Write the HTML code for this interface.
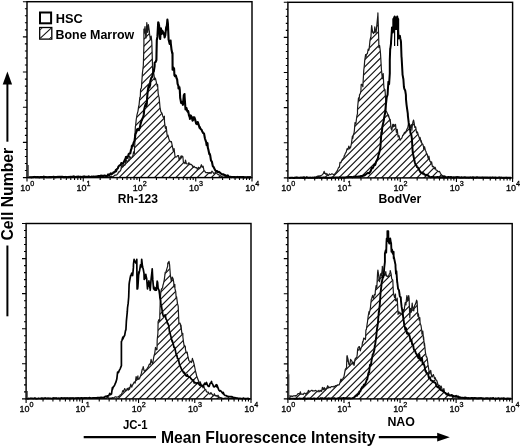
<!DOCTYPE html>
<html><head><meta charset="utf-8"><style>
html,body{margin:0;padding:0;background:#fff;width:520px;height:447px;overflow:hidden}
svg{display:block;will-change:transform}
text{font-family:"Liberation Sans",sans-serif}
</style></head><body>
<svg width="520" height="447" viewBox="0 0 520 447">
<rect width="520" height="447" fill="#fff"/>
<defs>
<clipPath id="c1"><path d="M28.0,177.6 L28.0,177.3 28.9,177.3 29.8,177.5 30.6,177.3 31.5,177.2 32.4,177.3 33.3,177.1 34.2,177.1 35.0,176.7 35.9,177.5 36.8,177.1 37.7,177.0 38.6,176.8 39.4,177.2 40.3,177.3 41.2,177.3 42.1,177.2 43.0,177.5 43.8,177.4 44.7,177.2 45.6,176.6 46.5,177.2 47.4,177.2 48.2,177.1 49.1,177.4 50.0,177.4 50.9,177.0 51.8,177.3 52.6,177.0 53.5,177.4 54.4,177.1 55.3,176.5 56.2,177.1 57.0,176.6 57.9,177.0 58.8,177.0 59.7,177.1 60.0,177.2 60.6,177.4 61.4,177.1 62.3,177.0 63.2,177.3 64.1,177.0 65.0,177.0 65.8,177.3 66.7,176.8 67.6,177.2 68.5,177.2 69.4,177.1 70.2,177.1 71.1,177.0 72.0,177.3 72.9,176.3 73.8,176.5 74.6,177.3 75.5,176.7 76.4,177.3 77.3,177.1 78.2,177.2 79.0,176.2 79.9,176.8 80.0,177.0 80.8,177.0 81.7,177.1 82.6,177.0 83.4,176.9 84.3,176.3 85.2,176.6 86.1,177.2 87.0,177.1 87.8,176.8 88.7,176.7 89.6,177.1 90.5,176.7 91.4,177.0 92.2,176.9 93.1,176.8 94.0,177.1 94.9,177.1 95.8,177.2 96.6,176.9 97.5,177.2 98.4,177.0 99.3,177.2 100.0,177.0 100.2,177.1 101.0,177.0 101.9,176.7 102.8,177.2 103.7,177.0 104.6,177.0 105.4,176.8 106.3,176.6 107.0,176.8 107.2,176.5 108.1,176.8 109.0,176.9 109.8,176.8 110.7,176.1 111.6,176.4 112.5,177.0 112.9,176.7 113.4,176.4 114.2,175.7 115.1,175.1 116.0,175.2 116.9,174.8 117.4,174.0 117.8,173.7 118.6,171.9 119.5,171.9 120.4,170.7 121.0,169.5 121.3,166.6 122.2,165.1 122.7,166.8 123.0,166.7 123.9,164.8 124.8,165.3 125.4,163.3 125.7,158.1 126.6,161.2 127.4,162.0 128.3,160.2 129.0,160.6 129.2,156.2 130.1,156.9 131.0,158.5 131.8,157.5 132.6,156.1 132.7,156.9 133.6,151.9 134.4,153.4 134.5,147.0 134.8,145.0 135.0,134.4 135.4,126.4 135.6,125.6 136.2,119.9 137.0,114.9 137.1,114.4 138.0,111.1 138.7,105.9 138.9,106.6 139.8,97.5 140.3,97.0 140.6,89.4 141.4,88.0 141.5,86.8 141.6,84.6 142.4,73.4 143.3,65.7 143.5,60.0 143.9,45.0 143.9,29.0 144.2,33.6 145.0,26.5 145.9,38.1 146.2,36.3 146.8,22.6 147.7,32.5 148.4,24.5 148.6,26.1 149.4,31.5 149.5,33.5 150.3,39.4 151.2,36.2 151.8,41.8 152.1,51.4 152.2,55.0 152.7,72.3 153.0,69.8 153.8,73.7 154.6,79.7 154.7,77.6 155.6,78.9 156.5,82.9 157.4,86.5 157.6,84.6 158.2,93.6 158.9,97.0 159.1,97.3 160.0,107.1 160.2,108.7 160.9,111.8 161.8,112.9 162.4,114.5 162.6,115.7 163.5,117.8 164.4,116.2 164.5,121.8 165.3,127.9 166.0,129.0 166.2,126.5 167.0,134.4 167.4,136.3 167.9,135.0 168.8,138.6 169.7,141.2 170.6,141.3 171.1,142.2 171.4,141.5 172.3,145.9 173.2,150.7 173.3,149.4 174.1,148.7 175.0,156.2 175.4,156.7 175.8,157.0 176.7,156.8 177.6,155.7 178.5,155.5 179.1,159.6 179.4,159.9 180.2,157.8 181.1,156.0 181.8,156.4 182.0,156.0 182.9,156.7 183.4,162.5 183.8,162.6 184.6,163.1 185.0,163.6 185.5,160.2 186.4,163.7 187.3,164.0 188.2,163.8 189.0,162.7 189.0,163.4 189.9,164.7 190.8,164.1 191.7,164.8 192.5,166.3 192.6,165.5 193.4,167.4 194.3,166.5 195.2,167.7 196.1,167.7 197.0,167.9 197.0,169.0 197.8,169.1 198.7,167.2 199.6,168.7 200.5,167.0 201.4,164.7 202.2,167.3 202.4,167.2 203.1,166.2 204.0,170.6 204.9,171.2 205.0,171.6 205.8,172.7 206.6,172.7 207.5,172.5 208.4,172.8 209.3,172.6 209.6,173.4 210.2,172.4 211.0,173.5 211.9,171.1 212.8,172.2 213.7,173.3 214.6,173.2 215.4,172.4 215.8,172.5 216.3,172.9 217.2,173.9 218.1,174.6 219.0,174.9 219.8,175.1 220.7,176.1 221.2,176.1 221.6,176.4 222.5,176.2 223.4,176.0 224.2,175.7 225.1,176.6 226.0,176.4 226.9,176.8 227.8,176.9 228.6,176.9 229.5,177.2 230.0,177.0 230.4,177.1 231.3,176.7 232.2,177.2 233.0,176.7 233.9,176.6 234.8,177.3 235.7,177.1 236.6,177.2 237.4,177.2 238.3,177.0 239.2,176.6 240.1,177.0 241.0,177.1 241.8,176.6 242.7,177.2 243.6,177.3 244.5,177.2 245.4,177.3 246.2,177.4 247.1,177.1 248.0,176.7 248.9,177.3 249.8,176.9 250.6,177.1 251.0,177.4 L251.0,177.6 Z"/></clipPath>
<clipPath id="c2"><path d="M289.0,177.9 L289.0,177.6 289.9,177.6 290.8,177.5 291.6,177.5 292.5,177.7 293.4,177.6 294.3,177.3 295.2,177.4 296.0,177.4 296.9,177.4 297.8,177.5 298.7,177.5 299.6,177.7 300.4,177.4 301.3,177.4 302.2,177.4 303.1,177.1 304.0,176.8 304.8,177.5 305.7,177.6 306.6,176.9 307.5,177.7 308.4,177.6 309.2,177.5 310.1,177.3 311.0,177.5 311.9,177.6 312.8,177.3 313.6,177.5 314.5,177.4 315.0,177.5 315.4,177.3 316.3,176.7 317.2,176.4 318.0,175.9 318.6,176.1 318.9,176.0 319.8,175.9 320.1,176.3 320.7,175.6 321.6,175.3 322.4,174.6 323.3,173.6 324.2,171.3 324.4,173.3 325.1,173.1 326.0,174.5 326.8,173.5 327.7,175.1 327.8,175.0 328.6,175.4 329.5,173.9 330.4,174.6 331.2,174.2 331.8,173.8 332.1,173.9 333.0,174.2 333.9,174.8 334.7,174.4 334.8,173.8 335.6,173.3 336.0,172.1 336.5,172.1 337.4,170.4 338.3,168.1 339.2,166.9 339.4,167.1 340.0,162.3 340.9,162.8 341.8,160.4 341.9,160.3 342.7,158.9 343.6,158.3 344.4,155.3 344.4,156.1 345.3,153.4 346.2,152.1 346.9,149.4 347.1,148.7 348.0,149.5 348.8,146.1 349.7,148.9 350.3,146.9 350.6,147.5 351.5,143.1 352.4,136.0 352.8,138.5 353.2,135.4 354.1,132.6 354.4,130.2 355.0,122.6 355.9,123.9 356.1,121.8 356.8,116.5 357.5,113.4 357.5,109.7 357.6,107.7 358.5,97.8 358.9,100.3 359.4,97.0 359.5,94.9 360.3,93.7 360.9,90.9 361.2,84.3 362.0,84.3 362.9,86.8 362.9,85.4 363.6,73.4 363.8,69.9 364.2,66.7 364.7,60.6 365.6,54.5 366.1,57.0 366.4,54.0 367.3,54.0 368.2,49.1 368.8,50.3 369.1,49.3 370.0,40.4 370.8,36.8 370.8,39.2 371.5,27.4 371.7,25.6 372.6,32.2 373.5,33.5 373.5,32.1 374.4,32.6 374.8,26.8 375.2,29.8 376.1,33.2 376.2,31.5 377.0,23.4 377.8,15.4 377.9,12.9 378.5,31.5 378.8,42.3 378.9,47.6 379.6,45.5 380.2,50.3 380.5,53.5 381.4,69.2 381.5,70.0 382.3,78.6 382.3,76.1 383.2,73.6 383.7,84.2 384.0,87.9 384.9,91.0 385.0,89.5 385.7,100.3 385.8,110.0 385.8,110.8 386.7,111.9 387.6,114.0 388.4,116.8 388.4,114.8 389.3,118.2 390.1,121.8 390.2,119.3 391.1,128.5 391.8,130.2 392.0,129.2 392.8,124.3 393.4,126.8 393.7,124.3 394.6,126.3 395.5,124.4 396.4,132.3 396.8,131.9 397.2,129.4 398.1,136.9 399.0,135.7 399.9,139.9 400.1,140.3 400.8,139.1 401.6,138.6 402.5,136.2 402.7,135.2 403.4,134.9 404.3,132.7 405.2,133.0 405.2,131.9 406.0,131.8 406.9,129.3 407.8,127.6 408.5,123.5 408.7,123.5 409.6,126.1 410.4,126.3 411.3,124.5 411.9,130.2 412.2,126.0 413.1,121.2 413.6,120.1 414.0,122.1 414.8,127.3 415.3,126.8 415.7,126.8 416.6,133.0 416.9,131.9 417.5,132.1 418.4,135.5 419.2,137.4 419.4,138.6 420.1,137.5 421.0,142.1 421.1,140.3 421.9,143.5 422.8,144.2 423.6,147.0 423.6,148.7 424.5,146.7 425.4,150.4 426.2,152.0 426.3,153.4 427.2,154.0 428.0,158.1 428.7,158.7 428.9,156.2 429.8,161.0 430.7,162.0 431.2,163.8 431.6,161.9 432.4,166.7 433.3,166.3 434.2,167.3 434.6,168.8 435.1,167.2 436.0,170.0 436.8,170.3 437.7,170.9 437.9,171.3 438.6,171.7 439.5,171.4 440.4,173.3 441.2,174.5 442.1,175.5 442.1,176.0 443.0,175.7 443.9,176.2 444.8,175.8 445.6,176.7 446.5,177.5 447.1,177.6 447.4,177.3 448.3,177.5 449.2,177.1 450.0,177.7 450.9,177.6 451.8,177.6 452.7,177.6 453.6,177.6 454.4,177.7 455.3,177.6 456.2,177.6 457.1,177.7 458.0,177.6 458.8,177.5 459.7,177.7 460.6,177.8 461.5,177.5 462.4,177.6 463.2,177.6 464.1,177.3 465.0,177.4 465.9,177.8 466.8,177.7 467.6,177.6 468.5,177.8 469.4,177.8 470.3,177.1 471.2,177.8 472.0,177.8 472.9,177.7 473.8,177.6 474.7,177.6 475.6,177.8 476.4,177.3 477.3,177.6 478.2,177.6 479.1,177.7 480.0,177.8 480.8,177.7 481.7,177.8 482.6,177.4 483.5,177.7 484.4,177.6 485.2,177.8 486.1,177.7 487.0,177.8 487.9,177.8 488.8,177.5 489.6,177.6 490.5,177.6 491.4,177.6 492.3,177.4 493.2,177.8 494.0,177.7 494.9,177.8 495.8,177.8 496.7,177.8 497.6,177.8 498.4,177.8 499.3,177.4 500.2,177.5 501.1,177.7 502.0,177.8 502.8,177.8 503.7,177.9 504.6,177.9 505.5,177.7 506.4,177.9 507.2,177.7 508.1,177.7 509.0,177.8 509.9,177.8 510.8,177.9 511.0,177.8 L511.0,177.9 Z"/></clipPath>
<clipPath id="c3"><path d="M27.0,398.9 L27.0,398.6 27.9,398.5 28.8,398.7 29.6,398.5 30.5,398.4 31.4,398.2 32.3,398.5 33.2,398.5 34.0,398.3 34.9,398.4 35.8,398.7 36.7,398.7 37.6,398.7 38.4,398.4 39.3,398.5 40.2,398.5 41.1,398.5 42.0,397.8 42.8,398.6 43.7,398.6 44.6,398.1 45.5,398.2 46.4,398.5 47.2,398.5 48.1,398.0 49.0,398.3 49.9,398.3 50.8,398.3 51.6,398.7 52.5,398.5 53.4,397.6 54.3,398.6 55.2,398.3 56.0,398.6 56.9,397.9 57.8,398.4 58.7,398.2 59.6,398.5 60.0,398.4 60.4,398.3 61.3,398.4 62.2,398.3 63.1,398.3 64.0,398.2 64.8,398.2 65.7,398.2 66.6,398.4 67.5,398.1 68.4,398.0 69.2,398.2 70.1,398.2 71.0,398.1 71.9,398.3 72.8,398.1 73.6,398.3 74.5,398.3 75.4,398.4 76.3,398.1 77.2,398.5 78.0,398.2 78.9,398.5 79.8,398.3 80.7,398.2 81.6,398.1 82.4,398.0 83.3,398.1 84.2,397.6 85.1,398.1 86.0,398.3 86.8,398.1 87.7,398.1 88.6,398.0 89.5,398.1 90.4,397.8 91.2,398.2 92.1,398.5 93.0,398.0 93.9,398.0 94.8,398.1 95.6,398.0 96.5,398.1 97.4,398.0 98.3,398.1 99.2,397.6 100.0,398.2 100.0,398.3 100.9,398.2 101.8,398.1 102.7,398.2 103.6,398.0 104.4,398.1 105.3,398.1 106.2,398.4 107.1,397.5 108.0,397.4 108.8,398.3 109.7,398.2 110.6,398.1 111.5,398.2 112.4,397.6 112.4,398.0 113.2,398.2 114.1,397.4 115.0,396.9 115.9,396.9 116.8,397.3 117.6,397.0 118.5,396.4 119.1,396.3 119.4,396.3 120.3,394.8 121.2,394.8 122.0,392.9 122.9,390.5 123.6,391.8 123.8,390.8 124.7,388.6 125.6,390.6 126.4,390.6 127.3,388.3 128.2,390.2 129.1,387.5 129.2,389.5 130.0,387.7 130.8,384.1 131.7,387.2 132.5,385.1 132.6,385.0 133.5,383.4 134.4,381.9 134.8,382.8 135.2,383.0 136.1,376.5 137.0,379.6 137.9,375.9 138.1,378.4 138.8,379.3 139.6,378.3 140.0,377.0 140.5,376.2 141.4,373.2 142.3,369.0 142.7,369.1 143.2,366.6 144.0,370.4 144.9,371.6 145.4,370.9 145.8,369.9 146.7,369.2 147.6,367.7 148.1,367.3 148.4,366.4 149.3,364.1 150.2,364.7 150.7,361.9 151.1,359.4 152.0,362.8 152.5,363.7 152.8,363.2 153.7,357.4 154.3,354.7 154.6,354.4 155.5,347.4 156.4,349.8 157.0,349.4 157.2,339.8 157.9,333.3 158.1,321.7 159.0,319.5 159.7,320.7 159.9,311.7 160.3,300.0 160.8,292.0 161.6,288.7 162.5,288.1 163.0,284.9 163.4,284.0 164.3,279.6 165.0,274.2 165.2,272.3 166.0,272.0 166.9,268.6 167.7,266.1 167.8,263.1 168.7,262.0 169.0,261.4 169.6,264.9 170.3,274.2 170.4,275.3 171.3,281.2 171.7,279.5 172.2,277.0 173.1,278.8 173.7,282.2 174.0,287.0 174.8,284.4 175.0,288.9 175.7,291.5 176.2,298.0 176.6,296.9 177.5,303.7 178.2,306.1 178.4,311.5 178.9,323.6 179.2,323.3 180.1,323.1 180.9,327.6 181.0,325.1 181.9,334.0 182.8,333.3 182.9,337.0 183.6,342.5 184.2,346.4 184.5,345.4 185.4,346.8 185.4,349.2 186.3,352.8 187.2,352.1 187.7,355.4 188.0,356.6 188.9,360.6 189.8,361.4 190.0,361.5 190.7,361.3 191.6,362.5 192.4,358.3 193.1,360.8 193.3,361.1 194.2,364.7 195.1,369.0 195.4,370.8 196.0,373.0 196.8,376.6 197.7,378.5 197.7,378.7 198.6,380.9 199.5,383.1 200.4,381.9 200.8,384.6 201.2,385.0 202.1,385.1 203.0,387.8 203.9,386.1 204.6,389.2 204.8,389.2 205.6,389.3 206.5,391.7 207.4,392.1 208.3,392.1 209.2,393.7 209.2,393.8 210.0,394.2 210.9,392.6 211.8,394.0 212.7,395.0 213.6,395.7 214.4,393.7 215.3,395.9 216.2,395.5 216.9,396.2 217.1,396.8 218.0,395.2 218.8,396.8 219.7,397.5 220.6,397.6 221.5,397.8 221.5,398.3 222.4,398.2 223.2,398.6 224.1,398.3 225.0,398.2 225.9,398.2 226.8,398.2 227.6,398.2 228.5,397.6 229.4,398.5 230.3,398.5 231.2,398.3 232.0,398.2 232.9,398.3 233.8,398.6 234.7,397.9 235.6,398.0 236.4,398.4 237.3,398.5 238.2,398.4 239.1,398.4 240.0,398.7 240.8,398.7 241.7,398.5 242.6,398.6 243.5,398.1 244.4,398.7 245.2,398.5 246.1,398.7 247.0,398.5 247.9,398.2 248.8,398.6 249.6,398.7 250.0,398.7 L250.0,398.9 Z"/></clipPath>
<clipPath id="c4"><path d="M289.0,398.9 L289.0,396.3 289.9,395.8 290.8,396.4 291.6,395.9 292.5,396.4 293.4,395.8 294.3,395.9 295.0,396.0 295.2,395.5 296.0,396.2 296.9,395.1 297.8,393.9 298.7,393.5 299.6,394.1 300.4,391.8 300.9,394.3 301.3,394.1 302.2,394.0 303.1,394.6 304.0,393.3 304.8,393.0 305.7,394.2 306.6,393.0 307.2,393.4 307.5,392.8 308.4,390.4 309.2,391.6 310.1,391.0 311.0,390.7 311.9,390.2 312.5,390.7 312.8,391.1 313.6,390.8 314.5,390.9 315.4,390.4 316.3,390.8 317.2,391.1 317.9,391.6 318.0,391.9 318.9,390.3 319.8,391.8 320.7,390.4 321.6,391.3 322.4,387.3 323.3,389.8 323.3,389.7 324.2,387.5 325.1,390.2 326.0,388.4 326.8,388.3 327.7,385.7 328.6,387.4 328.6,388.0 329.5,387.2 330.4,387.7 331.2,386.6 332.1,386.5 333.0,386.8 333.9,386.9 334.0,386.2 334.8,386.9 335.6,385.5 336.5,385.7 337.4,384.9 337.6,385.3 338.3,384.9 339.2,384.9 340.0,382.4 340.9,379.2 341.2,381.7 341.8,379.6 342.7,379.0 343.6,377.3 343.8,377.3 344.4,374.3 345.3,369.4 346.2,368.0 346.5,368.3 346.9,356.7 347.1,355.7 348.0,359.2 348.8,364.1 349.2,364.7 349.7,365.8 350.6,359.3 351.5,360.7 351.9,361.2 352.4,363.9 353.2,362.0 353.7,364.7 354.1,365.3 355.0,359.1 355.9,357.9 356.8,357.3 357.3,354.0 357.6,349.2 358.5,347.0 359.4,346.6 360.3,350.9 360.9,348.6 361.2,347.7 362.0,346.3 362.6,341.5 362.9,342.2 363.8,338.0 364.7,338.7 365.3,339.7 365.6,337.9 365.9,330.0 366.4,329.5 367.3,322.8 367.4,322.7 368.2,316.0 369.0,311.7 369.1,314.4 370.0,310.1 370.5,307.0 370.8,303.8 371.3,299.2 371.7,298.5 372.6,295.3 373.5,298.3 373.7,297.6 374.4,294.4 375.2,294.9 375.3,291.3 376.1,285.7 376.8,288.2 377.0,284.1 377.6,272.5 377.9,270.0 378.8,276.7 379.0,280.0 379.6,281.7 380.5,274.2 381.4,273.2 381.5,275.7 382.3,268.0 382.3,266.3 383.2,275.4 383.5,276.0 384.0,273.4 384.9,275.8 385.8,271.7 386.0,274.0 386.7,276.2 387.6,276.4 388.0,276.0 388.4,277.3 389.3,274.0 390.0,273.0 390.2,270.5 391.1,273.8 391.7,278.8 392.0,279.1 392.8,280.2 393.3,291.3 393.7,294.3 394.6,297.6 395.5,294.0 395.6,300.7 396.4,300.9 397.2,298.2 398.0,311.7 398.1,314.4 399.0,311.8 399.9,313.8 400.8,312.9 401.0,314.0 401.6,313.9 402.5,315.1 403.4,309.5 404.0,312.0 404.3,309.1 405.2,302.5 406.0,305.0 406.0,303.1 406.9,295.6 407.8,300.6 408.7,295.6 409.1,298.1 409.6,313.0 409.8,317.6 410.4,308.4 411.3,312.2 412.2,303.0 412.4,305.5 413.1,309.0 413.8,310.9 414.0,307.7 414.8,305.2 415.7,303.6 416.6,300.2 417.1,301.5 417.5,309.3 417.8,316.2 418.4,313.8 419.2,320.2 419.8,317.6 420.1,323.1 420.5,324.3 421.0,325.5 421.8,331.0 421.9,334.1 422.8,331.1 423.5,339.4 423.6,336.9 424.3,345.7 424.5,343.2 425.4,352.3 426.3,357.0 426.6,356.6 427.2,358.5 428.0,364.7 428.2,366.0 428.9,370.1 429.8,373.9 429.8,372.3 430.7,370.4 431.6,376.0 432.1,377.0 432.4,376.6 433.3,374.5 434.2,377.1 434.5,378.5 435.1,377.6 436.0,380.0 436.8,380.6 437.6,383.2 437.7,383.8 438.6,385.8 439.5,385.3 440.4,386.7 440.7,387.9 441.2,386.1 442.1,389.4 443.0,391.6 443.9,388.5 444.6,392.6 444.8,392.6 445.6,393.4 446.5,394.4 447.4,394.2 448.3,392.8 449.2,394.6 450.0,395.5 450.1,395.8 450.9,395.7 451.8,396.2 452.7,395.7 453.6,396.2 454.4,396.6 455.3,397.2 456.2,396.9 457.1,396.9 457.9,397.3 458.0,397.1 458.8,397.4 459.7,397.7 460.6,397.9 461.5,398.0 462.4,397.7 463.2,398.1 464.1,398.0 465.0,397.0 465.9,397.9 466.8,398.2 467.6,398.4 468.5,398.1 469.4,398.1 470.0,398.4 470.3,398.6 471.2,398.5 472.0,397.9 472.9,398.2 473.8,397.7 474.7,397.5 475.6,398.2 476.4,398.4 477.3,398.4 478.2,398.6 479.1,398.1 480.0,398.3 480.8,397.8 481.7,398.0 482.6,398.3 483.5,398.3 484.4,398.7 485.2,398.4 486.1,398.7 487.0,398.7 487.9,398.7 488.8,398.7 489.6,398.7 490.5,398.5 491.4,398.4 492.3,397.9 493.2,398.6 494.0,398.7 494.9,398.6 495.8,398.4 496.7,398.8 497.6,398.6 498.4,397.9 499.3,398.8 500.2,398.7 501.1,398.3 502.0,398.5 502.8,398.7 503.7,398.8 504.6,398.8 505.5,398.7 506.4,398.7 507.2,398.8 508.1,398.8 509.0,398.8 509.9,398.3 510.8,398.7 511.0,398.7 L511.0,398.9 Z"/></clipPath>
</defs>
<g clip-path="url(#c1)" stroke="#111" stroke-width="1.15"><line x1="22.00" y1="4.80" x2="257.00" y2="-230.20"/><line x1="22.00" y1="11.90" x2="257.00" y2="-223.10"/><line x1="22.00" y1="19.00" x2="257.00" y2="-216.00"/><line x1="22.00" y1="26.10" x2="257.00" y2="-208.90"/><line x1="22.00" y1="33.20" x2="257.00" y2="-201.80"/><line x1="22.00" y1="40.30" x2="257.00" y2="-194.70"/><line x1="22.00" y1="47.40" x2="257.00" y2="-187.60"/><line x1="22.00" y1="54.50" x2="257.00" y2="-180.50"/><line x1="22.00" y1="61.60" x2="257.00" y2="-173.40"/><line x1="22.00" y1="68.70" x2="257.00" y2="-166.30"/><line x1="22.00" y1="75.80" x2="257.00" y2="-159.20"/><line x1="22.00" y1="82.90" x2="257.00" y2="-152.10"/><line x1="22.00" y1="90.00" x2="257.00" y2="-145.00"/><line x1="22.00" y1="97.10" x2="257.00" y2="-137.90"/><line x1="22.00" y1="104.20" x2="257.00" y2="-130.80"/><line x1="22.00" y1="111.30" x2="257.00" y2="-123.70"/><line x1="22.00" y1="118.40" x2="257.00" y2="-116.60"/><line x1="22.00" y1="125.50" x2="257.00" y2="-109.50"/><line x1="22.00" y1="132.60" x2="257.00" y2="-102.40"/><line x1="22.00" y1="139.70" x2="257.00" y2="-95.30"/><line x1="22.00" y1="146.80" x2="257.00" y2="-88.20"/><line x1="22.00" y1="153.90" x2="257.00" y2="-81.10"/><line x1="22.00" y1="161.00" x2="257.00" y2="-74.00"/><line x1="22.00" y1="168.10" x2="257.00" y2="-66.90"/><line x1="22.00" y1="175.20" x2="257.00" y2="-59.80"/><line x1="22.00" y1="182.30" x2="257.00" y2="-52.70"/><line x1="22.00" y1="189.40" x2="257.00" y2="-45.60"/><line x1="22.00" y1="196.50" x2="257.00" y2="-38.50"/><line x1="22.00" y1="203.60" x2="257.00" y2="-31.40"/><line x1="22.00" y1="210.70" x2="257.00" y2="-24.30"/><line x1="22.00" y1="217.80" x2="257.00" y2="-17.20"/><line x1="22.00" y1="224.90" x2="257.00" y2="-10.10"/><line x1="22.00" y1="232.00" x2="257.00" y2="-3.00"/><line x1="22.00" y1="239.10" x2="257.00" y2="4.10"/><line x1="22.00" y1="246.20" x2="257.00" y2="11.20"/><line x1="22.00" y1="253.30" x2="257.00" y2="18.30"/><line x1="22.00" y1="260.40" x2="257.00" y2="25.40"/><line x1="22.00" y1="267.50" x2="257.00" y2="32.50"/><line x1="22.00" y1="274.60" x2="257.00" y2="39.60"/><line x1="22.00" y1="281.70" x2="257.00" y2="46.70"/><line x1="22.00" y1="288.80" x2="257.00" y2="53.80"/><line x1="22.00" y1="295.90" x2="257.00" y2="60.90"/><line x1="22.00" y1="303.00" x2="257.00" y2="68.00"/><line x1="22.00" y1="310.10" x2="257.00" y2="75.10"/><line x1="22.00" y1="317.20" x2="257.00" y2="82.20"/><line x1="22.00" y1="324.30" x2="257.00" y2="89.30"/><line x1="22.00" y1="331.40" x2="257.00" y2="96.40"/><line x1="22.00" y1="338.50" x2="257.00" y2="103.50"/><line x1="22.00" y1="345.60" x2="257.00" y2="110.60"/><line x1="22.00" y1="352.70" x2="257.00" y2="117.70"/><line x1="22.00" y1="359.80" x2="257.00" y2="124.80"/><line x1="22.00" y1="366.90" x2="257.00" y2="131.90"/><line x1="22.00" y1="374.00" x2="257.00" y2="139.00"/><line x1="22.00" y1="381.10" x2="257.00" y2="146.10"/><line x1="22.00" y1="388.20" x2="257.00" y2="153.20"/><line x1="22.00" y1="395.30" x2="257.00" y2="160.30"/><line x1="22.00" y1="402.40" x2="257.00" y2="167.40"/><line x1="22.00" y1="409.50" x2="257.00" y2="174.50"/></g>
<polyline points="28.0,177.3 28.9,177.3 29.8,177.5 30.6,177.3 31.5,177.2 32.4,177.3 33.3,177.1 34.2,177.1 35.0,176.7 35.9,177.5 36.8,177.1 37.7,177.0 38.6,176.8 39.4,177.2 40.3,177.3 41.2,177.3 42.1,177.2 43.0,177.5 43.8,177.4 44.7,177.2 45.6,176.6 46.5,177.2 47.4,177.2 48.2,177.1 49.1,177.4 50.0,177.4 50.9,177.0 51.8,177.3 52.6,177.0 53.5,177.4 54.4,177.1 55.3,176.5 56.2,177.1 57.0,176.6 57.9,177.0 58.8,177.0 59.7,177.1 60.0,177.2 60.6,177.4 61.4,177.1 62.3,177.0 63.2,177.3 64.1,177.0 65.0,177.0 65.8,177.3 66.7,176.8 67.6,177.2 68.5,177.2 69.4,177.1 70.2,177.1 71.1,177.0 72.0,177.3 72.9,176.3 73.8,176.5 74.6,177.3 75.5,176.7 76.4,177.3 77.3,177.1 78.2,177.2 79.0,176.2 79.9,176.8 80.0,177.0 80.8,177.0 81.7,177.1 82.6,177.0 83.4,176.9 84.3,176.3 85.2,176.6 86.1,177.2 87.0,177.1 87.8,176.8 88.7,176.7 89.6,177.1 90.5,176.7 91.4,177.0 92.2,176.9 93.1,176.8 94.0,177.1 94.9,177.1 95.8,177.2 96.6,176.9 97.5,177.2 98.4,177.0 99.3,177.2 100.0,177.0 100.2,177.1 101.0,177.0 101.9,176.7 102.8,177.2 103.7,177.0 104.6,177.0 105.4,176.8 106.3,176.6 107.0,176.8 107.2,176.5 108.1,176.8 109.0,176.9 109.8,176.8 110.7,176.1 111.6,176.4 112.5,177.0 112.9,176.7 113.4,176.4 114.2,175.7 115.1,175.1 116.0,175.2 116.9,174.8 117.4,174.0 117.8,173.7 118.6,171.9 119.5,171.9 120.4,170.7 121.0,169.5 121.3,166.6 122.2,165.1 122.7,166.8 123.0,166.7 123.9,164.8 124.8,165.3 125.4,163.3 125.7,158.1 126.6,161.2 127.4,162.0 128.3,160.2 129.0,160.6 129.2,156.2 130.1,156.9 131.0,158.5 131.8,157.5 132.6,156.1 132.7,156.9 133.6,151.9 134.4,153.4 134.5,147.0 134.8,145.0 135.0,134.4 135.4,126.4 135.6,125.6 136.2,119.9 137.0,114.9 137.1,114.4 138.0,111.1 138.7,105.9 138.9,106.6 139.8,97.5 140.3,97.0 140.6,89.4 141.4,88.0 141.5,86.8 141.6,84.6 142.4,73.4 143.3,65.7 143.5,60.0 143.9,45.0 143.9,29.0 144.2,33.6 145.0,26.5 145.9,38.1 146.2,36.3 146.8,22.6 147.7,32.5 148.4,24.5 148.6,26.1 149.4,31.5 149.5,33.5 150.3,39.4 151.2,36.2 151.8,41.8 152.1,51.4 152.2,55.0 152.7,72.3 153.0,69.8 153.8,73.7 154.6,79.7 154.7,77.6 155.6,78.9 156.5,82.9 157.4,86.5 157.6,84.6 158.2,93.6 158.9,97.0 159.1,97.3 160.0,107.1 160.2,108.7 160.9,111.8 161.8,112.9 162.4,114.5 162.6,115.7 163.5,117.8 164.4,116.2 164.5,121.8 165.3,127.9 166.0,129.0 166.2,126.5 167.0,134.4 167.4,136.3 167.9,135.0 168.8,138.6 169.7,141.2 170.6,141.3 171.1,142.2 171.4,141.5 172.3,145.9 173.2,150.7 173.3,149.4 174.1,148.7 175.0,156.2 175.4,156.7 175.8,157.0 176.7,156.8 177.6,155.7 178.5,155.5 179.1,159.6 179.4,159.9 180.2,157.8 181.1,156.0 181.8,156.4 182.0,156.0 182.9,156.7 183.4,162.5 183.8,162.6 184.6,163.1 185.0,163.6 185.5,160.2 186.4,163.7 187.3,164.0 188.2,163.8 189.0,162.7 189.0,163.4 189.9,164.7 190.8,164.1 191.7,164.8 192.5,166.3 192.6,165.5 193.4,167.4 194.3,166.5 195.2,167.7 196.1,167.7 197.0,167.9 197.0,169.0 197.8,169.1 198.7,167.2 199.6,168.7 200.5,167.0 201.4,164.7 202.2,167.3 202.4,167.2 203.1,166.2 204.0,170.6 204.9,171.2 205.0,171.6 205.8,172.7 206.6,172.7 207.5,172.5 208.4,172.8 209.3,172.6 209.6,173.4 210.2,172.4 211.0,173.5 211.9,171.1 212.8,172.2 213.7,173.3 214.6,173.2 215.4,172.4 215.8,172.5 216.3,172.9 217.2,173.9 218.1,174.6 219.0,174.9 219.8,175.1 220.7,176.1 221.2,176.1 221.6,176.4 222.5,176.2 223.4,176.0 224.2,175.7 225.1,176.6 226.0,176.4 226.9,176.8 227.8,176.9 228.6,176.9 229.5,177.2 230.0,177.0 230.4,177.1 231.3,176.7 232.2,177.2 233.0,176.7 233.9,176.6 234.8,177.3 235.7,177.1 236.6,177.2 237.4,177.2 238.3,177.0 239.2,176.6 240.1,177.0 241.0,177.1 241.8,176.6 242.7,177.2 243.6,177.3 244.5,177.2 245.4,177.3 246.2,177.4 247.1,177.1 248.0,176.7 248.9,177.3 249.8,176.9 250.6,177.1 251.0,177.4" fill="none" stroke="#1a1a1a" stroke-width="1.2" stroke-linejoin="round"/>
<polyline points="28.0,177.3 28.9,177.2 29.8,177.3 30.6,177.2 31.5,177.4 32.4,177.3 33.3,177.1 34.2,176.9 35.0,177.1 35.9,177.1 36.8,177.3 37.7,177.0 38.6,177.2 39.4,177.4 40.3,177.1 41.2,177.0 42.1,177.1 43.0,177.1 43.8,176.6 44.7,177.0 45.6,177.0 46.5,177.3 47.4,177.2 48.2,177.2 49.1,177.1 50.0,177.0 50.9,177.3 51.8,177.0 52.6,177.0 53.5,176.8 54.4,177.1 55.3,177.0 56.2,177.1 57.0,176.9 57.9,177.0 58.8,176.9 59.7,176.9 60.0,177.0 60.6,176.9 61.4,176.9 62.3,176.8 63.2,177.1 64.1,177.0 65.0,177.1 65.8,176.9 66.7,177.2 67.6,177.1 68.5,176.9 69.4,177.1 70.2,176.7 71.1,177.0 72.0,176.8 72.9,176.8 73.8,176.4 74.6,177.1 75.5,177.0 76.4,176.7 77.3,176.8 78.2,176.6 79.0,177.0 79.9,177.0 80.0,176.8 80.8,176.8 81.7,177.0 82.6,176.8 83.4,176.5 84.3,176.6 85.2,176.9 86.1,176.8 87.0,176.7 87.8,177.0 88.7,176.4 89.6,176.8 90.5,177.0 91.4,176.6 92.2,176.7 93.1,176.6 94.0,176.6 94.9,176.9 95.0,176.8 95.8,176.5 96.6,176.8 97.5,176.2 98.4,176.1 99.3,176.1 100.2,176.1 100.4,176.2 101.0,175.5 101.9,175.9 102.8,175.8 103.7,175.9 104.6,175.5 105.4,175.7 106.3,176.0 107.2,175.7 107.5,175.5 108.1,174.4 109.0,175.4 109.8,174.4 110.7,173.3 111.6,174.2 112.5,173.4 112.9,173.3 113.4,172.4 114.2,172.4 115.1,171.7 116.0,169.8 116.0,171.3 116.9,169.1 117.8,168.5 118.3,166.8 118.6,166.4 119.5,165.4 120.4,165.1 121.0,164.2 121.3,163.1 122.2,163.4 123.0,163.7 123.6,162.4 123.9,162.0 124.8,160.0 125.7,158.1 125.9,157.0 126.6,156.8 127.2,157.9 127.4,157.0 128.3,155.9 128.6,154.3 129.2,153.6 130.1,153.0 130.3,153.4 131.0,149.8 131.7,148.1 131.8,146.2 132.6,145.0 132.7,146.3 133.6,142.7 133.7,142.6 134.5,140.9 135.2,136.0 135.4,134.2 136.2,132.6 136.5,131.0 137.1,129.4 138.0,128.8 138.0,129.5 138.9,130.1 139.6,128.0 139.8,128.0 140.5,123.8 140.6,123.9 141.5,120.6 141.9,120.2 142.4,118.6 143.3,116.7 143.7,114.9 144.2,109.6 144.6,107.7 145.0,106.1 145.9,103.6 146.4,105.9 146.8,103.7 147.2,97.0 147.7,91.3 148.6,85.6 148.6,88.0 149.4,87.4 150.2,84.6 150.3,81.3 151.2,78.2 152.1,76.9 153.0,72.9 153.3,72.3 153.8,71.5 154.6,66.0 154.7,62.6 155.6,62.0 156.4,60.0 156.5,54.2 156.8,40.2 157.4,36.9 158.2,22.2 158.5,22.8 159.1,25.6 160.0,38.9 160.2,39.0 160.9,28.2 161.8,33.9 162.4,30.7 162.6,31.2 163.5,32.9 164.4,35.7 164.6,37.4 165.3,35.2 166.2,27.0 166.3,29.5 167.0,24.1 167.4,19.5 167.9,23.7 168.6,39.6 168.8,40.2 169.7,44.0 169.7,43.0 170.6,40.6 170.8,43.5 171.4,48.6 171.4,49.0 172.3,53.6 172.5,53.0 172.6,69.8 173.2,67.3 174.1,68.6 174.4,75.2 175.0,76.2 175.8,75.4 176.7,78.6 177.1,79.2 177.6,83.8 178.4,85.9 178.5,88.5 179.4,87.1 179.8,90.0 180.2,98.1 180.5,99.4 181.1,102.9 182.0,102.1 182.6,104.0 182.9,104.8 183.8,95.3 184.5,94.0 184.6,96.8 185.4,108.0 185.5,109.5 186.4,107.9 187.3,111.1 188.0,112.0 188.2,111.1 189.0,115.5 189.9,117.9 189.9,119.0 190.8,115.4 191.7,117.3 192.6,120.7 193.4,119.7 193.4,117.2 194.3,117.2 195.2,119.7 196.1,123.6 197.0,124.1 197.0,122.4 197.8,122.1 198.7,124.9 199.6,127.9 199.7,126.9 200.5,128.9 201.4,129.5 202.2,131.2 203.1,132.9 203.3,133.1 204.0,133.4 204.9,138.2 205.8,141.3 206.0,141.2 206.6,145.2 207.5,143.2 207.8,147.5 208.4,149.8 209.3,154.1 209.6,153.7 210.2,155.3 211.0,160.6 211.3,160.9 211.9,161.7 212.8,166.1 213.1,166.3 213.7,167.2 214.6,169.0 215.4,170.5 215.8,170.8 216.3,171.4 217.2,171.1 218.1,172.3 219.0,171.9 219.4,172.5 219.8,172.4 220.7,173.3 221.6,174.0 222.5,174.2 223.4,174.2 224.2,174.9 224.8,175.2 225.1,175.1 226.0,175.5 226.9,175.8 227.8,175.3 228.6,176.4 229.5,177.0 230.2,177.0 230.4,176.8 231.3,177.1 232.2,177.0 233.0,177.0 233.9,177.1 234.8,177.0 235.7,177.2 236.6,177.1 237.4,176.9 238.3,177.1 239.2,177.2 240.1,177.0 241.0,177.1 241.8,177.2 242.7,177.0 243.6,177.1 244.5,177.4 245.4,177.2 246.2,177.2 247.1,177.4 248.0,177.4 248.9,177.2 249.8,177.3 250.6,177.4 251.0,177.4" fill="none" stroke="#000" stroke-width="2.10" stroke-linejoin="round"/>
<g clip-path="url(#c2)" stroke="#111" stroke-width="1.15"><line x1="282.90" y1="6.60" x2="517.60" y2="-228.10"/><line x1="282.90" y1="13.70" x2="517.60" y2="-221.00"/><line x1="282.90" y1="20.80" x2="517.60" y2="-213.90"/><line x1="282.90" y1="27.90" x2="517.60" y2="-206.80"/><line x1="282.90" y1="35.00" x2="517.60" y2="-199.70"/><line x1="282.90" y1="42.10" x2="517.60" y2="-192.60"/><line x1="282.90" y1="49.20" x2="517.60" y2="-185.50"/><line x1="282.90" y1="56.30" x2="517.60" y2="-178.40"/><line x1="282.90" y1="63.40" x2="517.60" y2="-171.30"/><line x1="282.90" y1="70.50" x2="517.60" y2="-164.20"/><line x1="282.90" y1="77.60" x2="517.60" y2="-157.10"/><line x1="282.90" y1="84.70" x2="517.60" y2="-150.00"/><line x1="282.90" y1="91.80" x2="517.60" y2="-142.90"/><line x1="282.90" y1="98.90" x2="517.60" y2="-135.80"/><line x1="282.90" y1="106.00" x2="517.60" y2="-128.70"/><line x1="282.90" y1="113.10" x2="517.60" y2="-121.60"/><line x1="282.90" y1="120.20" x2="517.60" y2="-114.50"/><line x1="282.90" y1="127.30" x2="517.60" y2="-107.40"/><line x1="282.90" y1="134.40" x2="517.60" y2="-100.30"/><line x1="282.90" y1="141.50" x2="517.60" y2="-93.20"/><line x1="282.90" y1="148.60" x2="517.60" y2="-86.10"/><line x1="282.90" y1="155.70" x2="517.60" y2="-79.00"/><line x1="282.90" y1="162.80" x2="517.60" y2="-71.90"/><line x1="282.90" y1="169.90" x2="517.60" y2="-64.80"/><line x1="282.90" y1="177.00" x2="517.60" y2="-57.70"/><line x1="282.90" y1="184.10" x2="517.60" y2="-50.60"/><line x1="282.90" y1="191.20" x2="517.60" y2="-43.50"/><line x1="282.90" y1="198.30" x2="517.60" y2="-36.40"/><line x1="282.90" y1="205.40" x2="517.60" y2="-29.30"/><line x1="282.90" y1="212.50" x2="517.60" y2="-22.20"/><line x1="282.90" y1="219.60" x2="517.60" y2="-15.10"/><line x1="282.90" y1="226.70" x2="517.60" y2="-8.00"/><line x1="282.90" y1="233.80" x2="517.60" y2="-0.90"/><line x1="282.90" y1="240.90" x2="517.60" y2="6.20"/><line x1="282.90" y1="248.00" x2="517.60" y2="13.30"/><line x1="282.90" y1="255.10" x2="517.60" y2="20.40"/><line x1="282.90" y1="262.20" x2="517.60" y2="27.50"/><line x1="282.90" y1="269.30" x2="517.60" y2="34.60"/><line x1="282.90" y1="276.40" x2="517.60" y2="41.70"/><line x1="282.90" y1="283.50" x2="517.60" y2="48.80"/><line x1="282.90" y1="290.60" x2="517.60" y2="55.90"/><line x1="282.90" y1="297.70" x2="517.60" y2="63.00"/><line x1="282.90" y1="304.80" x2="517.60" y2="70.10"/><line x1="282.90" y1="311.90" x2="517.60" y2="77.20"/><line x1="282.90" y1="319.00" x2="517.60" y2="84.30"/><line x1="282.90" y1="326.10" x2="517.60" y2="91.40"/><line x1="282.90" y1="333.20" x2="517.60" y2="98.50"/><line x1="282.90" y1="340.30" x2="517.60" y2="105.60"/><line x1="282.90" y1="347.40" x2="517.60" y2="112.70"/><line x1="282.90" y1="354.50" x2="517.60" y2="119.80"/><line x1="282.90" y1="361.60" x2="517.60" y2="126.90"/><line x1="282.90" y1="368.70" x2="517.60" y2="134.00"/><line x1="282.90" y1="375.80" x2="517.60" y2="141.10"/><line x1="282.90" y1="382.90" x2="517.60" y2="148.20"/><line x1="282.90" y1="390.00" x2="517.60" y2="155.30"/><line x1="282.90" y1="397.10" x2="517.60" y2="162.40"/><line x1="282.90" y1="404.20" x2="517.60" y2="169.50"/><line x1="282.90" y1="411.30" x2="517.60" y2="176.60"/></g>
<polyline points="289.0,177.6 289.9,177.6 290.8,177.5 291.6,177.5 292.5,177.7 293.4,177.6 294.3,177.3 295.2,177.4 296.0,177.4 296.9,177.4 297.8,177.5 298.7,177.5 299.6,177.7 300.4,177.4 301.3,177.4 302.2,177.4 303.1,177.1 304.0,176.8 304.8,177.5 305.7,177.6 306.6,176.9 307.5,177.7 308.4,177.6 309.2,177.5 310.1,177.3 311.0,177.5 311.9,177.6 312.8,177.3 313.6,177.5 314.5,177.4 315.0,177.5 315.4,177.3 316.3,176.7 317.2,176.4 318.0,175.9 318.6,176.1 318.9,176.0 319.8,175.9 320.1,176.3 320.7,175.6 321.6,175.3 322.4,174.6 323.3,173.6 324.2,171.3 324.4,173.3 325.1,173.1 326.0,174.5 326.8,173.5 327.7,175.1 327.8,175.0 328.6,175.4 329.5,173.9 330.4,174.6 331.2,174.2 331.8,173.8 332.1,173.9 333.0,174.2 333.9,174.8 334.7,174.4 334.8,173.8 335.6,173.3 336.0,172.1 336.5,172.1 337.4,170.4 338.3,168.1 339.2,166.9 339.4,167.1 340.0,162.3 340.9,162.8 341.8,160.4 341.9,160.3 342.7,158.9 343.6,158.3 344.4,155.3 344.4,156.1 345.3,153.4 346.2,152.1 346.9,149.4 347.1,148.7 348.0,149.5 348.8,146.1 349.7,148.9 350.3,146.9 350.6,147.5 351.5,143.1 352.4,136.0 352.8,138.5 353.2,135.4 354.1,132.6 354.4,130.2 355.0,122.6 355.9,123.9 356.1,121.8 356.8,116.5 357.5,113.4 357.5,109.7 357.6,107.7 358.5,97.8 358.9,100.3 359.4,97.0 359.5,94.9 360.3,93.7 360.9,90.9 361.2,84.3 362.0,84.3 362.9,86.8 362.9,85.4 363.6,73.4 363.8,69.9 364.2,66.7 364.7,60.6 365.6,54.5 366.1,57.0 366.4,54.0 367.3,54.0 368.2,49.1 368.8,50.3 369.1,49.3 370.0,40.4 370.8,36.8 370.8,39.2 371.5,27.4 371.7,25.6 372.6,32.2 373.5,33.5 373.5,32.1 374.4,32.6 374.8,26.8 375.2,29.8 376.1,33.2 376.2,31.5 377.0,23.4 377.8,15.4 377.9,12.9 378.5,31.5 378.8,42.3 378.9,47.6 379.6,45.5 380.2,50.3 380.5,53.5 381.4,69.2 381.5,70.0 382.3,78.6 382.3,76.1 383.2,73.6 383.7,84.2 384.0,87.9 384.9,91.0 385.0,89.5 385.7,100.3 385.8,110.0 385.8,110.8 386.7,111.9 387.6,114.0 388.4,116.8 388.4,114.8 389.3,118.2 390.1,121.8 390.2,119.3 391.1,128.5 391.8,130.2 392.0,129.2 392.8,124.3 393.4,126.8 393.7,124.3 394.6,126.3 395.5,124.4 396.4,132.3 396.8,131.9 397.2,129.4 398.1,136.9 399.0,135.7 399.9,139.9 400.1,140.3 400.8,139.1 401.6,138.6 402.5,136.2 402.7,135.2 403.4,134.9 404.3,132.7 405.2,133.0 405.2,131.9 406.0,131.8 406.9,129.3 407.8,127.6 408.5,123.5 408.7,123.5 409.6,126.1 410.4,126.3 411.3,124.5 411.9,130.2 412.2,126.0 413.1,121.2 413.6,120.1 414.0,122.1 414.8,127.3 415.3,126.8 415.7,126.8 416.6,133.0 416.9,131.9 417.5,132.1 418.4,135.5 419.2,137.4 419.4,138.6 420.1,137.5 421.0,142.1 421.1,140.3 421.9,143.5 422.8,144.2 423.6,147.0 423.6,148.7 424.5,146.7 425.4,150.4 426.2,152.0 426.3,153.4 427.2,154.0 428.0,158.1 428.7,158.7 428.9,156.2 429.8,161.0 430.7,162.0 431.2,163.8 431.6,161.9 432.4,166.7 433.3,166.3 434.2,167.3 434.6,168.8 435.1,167.2 436.0,170.0 436.8,170.3 437.7,170.9 437.9,171.3 438.6,171.7 439.5,171.4 440.4,173.3 441.2,174.5 442.1,175.5 442.1,176.0 443.0,175.7 443.9,176.2 444.8,175.8 445.6,176.7 446.5,177.5 447.1,177.6 447.4,177.3 448.3,177.5 449.2,177.1 450.0,177.7 450.9,177.6 451.8,177.6 452.7,177.6 453.6,177.6 454.4,177.7 455.3,177.6 456.2,177.6 457.1,177.7 458.0,177.6 458.8,177.5 459.7,177.7 460.6,177.8 461.5,177.5 462.4,177.6 463.2,177.6 464.1,177.3 465.0,177.4 465.9,177.8 466.8,177.7 467.6,177.6 468.5,177.8 469.4,177.8 470.3,177.1 471.2,177.8 472.0,177.8 472.9,177.7 473.8,177.6 474.7,177.6 475.6,177.8 476.4,177.3 477.3,177.6 478.2,177.6 479.1,177.7 480.0,177.8 480.8,177.7 481.7,177.8 482.6,177.4 483.5,177.7 484.4,177.6 485.2,177.8 486.1,177.7 487.0,177.8 487.9,177.8 488.8,177.5 489.6,177.6 490.5,177.6 491.4,177.6 492.3,177.4 493.2,177.8 494.0,177.7 494.9,177.8 495.8,177.8 496.7,177.8 497.6,177.8 498.4,177.8 499.3,177.4 500.2,177.5 501.1,177.7 502.0,177.8 502.8,177.8 503.7,177.9 504.6,177.9 505.5,177.7 506.4,177.9 507.2,177.7 508.1,177.7 509.0,177.8 509.9,177.8 510.8,177.9 511.0,177.8" fill="none" stroke="#1a1a1a" stroke-width="1.2" stroke-linejoin="round"/>
<polyline points="289.0,177.8 289.9,177.9 290.8,177.7 291.6,177.7 292.5,177.8 293.4,177.9 294.3,177.9 295.2,177.8 296.0,177.8 296.9,177.6 297.8,177.8 298.7,177.7 299.6,177.8 300.4,177.8 301.3,177.8 302.2,177.8 303.1,177.9 304.0,177.8 304.8,177.8 305.7,177.8 306.6,177.5 307.5,177.6 308.4,177.8 309.2,177.7 310.1,177.8 311.0,177.7 311.9,177.7 312.8,177.8 313.6,177.8 314.5,177.6 315.4,177.7 316.3,177.7 317.2,177.8 318.0,177.4 318.9,177.6 319.8,177.7 320.7,177.7 321.6,177.6 322.4,177.8 323.3,177.6 324.2,177.6 325.1,177.8 326.0,177.7 326.8,177.7 327.7,177.7 328.6,177.8 329.5,177.8 330.0,177.7 330.4,177.7 331.2,177.8 332.1,177.6 333.0,177.7 333.9,177.5 334.8,177.6 335.6,177.5 336.5,177.6 337.4,177.5 338.3,177.7 339.2,177.3 340.0,177.5 340.9,177.6 341.8,177.4 342.7,177.5 343.6,177.5 344.4,177.6 345.0,177.5 345.3,177.5 346.2,177.3 347.1,177.2 348.0,177.2 348.8,177.0 349.7,176.9 350.6,176.9 351.5,176.9 351.9,177.1 352.4,177.3 353.2,176.8 354.1,176.7 355.0,177.1 355.9,176.5 356.8,176.8 357.6,176.8 358.5,176.6 359.4,176.7 360.3,176.2 360.4,176.4 361.2,175.9 362.0,175.9 362.9,175.9 363.8,175.1 364.7,175.5 365.1,175.0 365.6,174.6 366.4,173.9 367.3,173.2 368.2,172.9 369.1,173.4 369.8,172.3 370.0,172.1 370.8,170.9 371.7,167.8 372.4,168.3 372.6,168.3 373.5,166.5 374.4,164.6 375.2,164.9 375.8,163.0 376.1,161.8 377.0,160.0 377.9,158.1 378.5,154.9 378.8,154.5 379.6,151.2 380.5,146.8 380.5,146.0 381.4,132.3 381.8,133.4 382.3,127.0 383.2,123.0 383.9,120.0 384.0,118.4 384.9,113.9 385.1,113.0 385.8,105.4 386.4,100.3 386.7,97.4 387.6,94.6 387.8,90.9 388.4,81.7 389.1,84.2 389.3,80.9 389.8,73.4 389.8,60.0 390.2,48.6 390.3,48.9 391.0,43.6 391.1,41.0 391.8,31.0 392.0,27.6 392.8,32.6 393.3,30.0 393.3,19.0 393.7,18.9 394.6,16.5 395.5,18.1 396.4,19.6 397.2,16.5 398.1,21.3 398.2,19.0 398.2,30.0 398.6,38.4 399.0,37.4 399.9,35.9 400.3,38.4 400.8,40.6 401.0,42.2 401.5,57.0 401.6,57.4 402.5,73.4 402.5,74.4 403.4,79.2 403.9,86.8 404.3,88.8 405.2,90.5 405.9,94.9 406.0,99.4 406.5,104.3 406.9,107.3 407.8,113.6 407.9,116.0 408.7,122.7 409.6,127.6 410.2,130.2 410.4,132.9 411.3,134.7 411.9,138.6 412.2,144.3 412.7,152.0 413.1,154.2 414.0,158.4 414.4,160.4 414.8,162.3 415.7,165.0 416.6,165.7 416.9,167.1 417.5,167.2 418.4,168.4 419.2,170.2 420.1,171.3 420.3,172.1 421.0,172.8 421.9,172.4 422.8,173.6 423.6,173.2 424.5,174.6 425.3,174.7 425.4,175.2 426.3,174.8 427.2,175.5 428.0,175.2 428.9,176.3 429.8,176.9 430.4,177.2 430.7,177.2 431.6,177.0 432.4,177.0 433.3,177.0 434.2,177.2 435.1,177.3 436.0,177.2 436.8,177.1 437.7,176.9 438.6,177.3 439.5,177.5 440.4,177.3 441.2,177.4 442.1,177.1 443.0,177.5 443.9,176.8 444.8,177.5 445.6,177.2 446.5,177.5 447.4,177.2 448.3,177.1 449.2,177.3 450.0,177.3 450.9,177.1 451.8,177.3 452.7,177.5 453.6,177.3 454.4,177.5 455.3,177.2 456.2,177.3 457.1,176.9 458.0,177.3 458.8,177.1 459.7,177.5 460.6,177.6 461.5,177.2 462.4,177.4 463.2,177.6 464.1,177.4 465.0,177.3 465.9,177.4 466.8,177.5 467.6,177.6 468.5,177.5 469.4,177.4 470.3,177.4 471.2,177.4 472.0,177.5 472.9,177.2 473.8,177.5 474.7,177.4 475.6,177.4 476.4,177.7 477.3,177.2 478.2,177.6 479.1,177.5 480.0,177.4 480.8,177.6 481.7,177.6 482.6,177.6 483.5,177.6 484.4,177.4 485.2,177.5 486.1,177.5 487.0,177.6 487.9,177.5 488.8,177.7 489.6,177.6 490.5,177.5 491.4,177.7 492.3,177.5 493.2,177.6 494.0,177.7 494.9,177.6 495.8,177.6 496.7,177.7 497.6,177.8 498.4,177.6 499.3,177.6 500.2,177.8 501.1,177.4 502.0,177.8 502.8,177.7 503.7,177.8 504.6,177.8 505.5,177.8 506.4,177.6 507.2,177.8 508.1,177.8 509.0,177.7 509.9,177.8 510.8,177.8 511.0,177.8" fill="none" stroke="#000" stroke-width="2.00" stroke-linejoin="round"/>
<g clip-path="url(#c3)" stroke="#111" stroke-width="1.15"><line x1="21.10" y1="225.80" x2="256.00" y2="-9.10"/><line x1="21.10" y1="232.90" x2="256.00" y2="-2.00"/><line x1="21.10" y1="240.00" x2="256.00" y2="5.10"/><line x1="21.10" y1="247.10" x2="256.00" y2="12.20"/><line x1="21.10" y1="254.20" x2="256.00" y2="19.30"/><line x1="21.10" y1="261.30" x2="256.00" y2="26.40"/><line x1="21.10" y1="268.40" x2="256.00" y2="33.50"/><line x1="21.10" y1="275.50" x2="256.00" y2="40.60"/><line x1="21.10" y1="282.60" x2="256.00" y2="47.70"/><line x1="21.10" y1="289.70" x2="256.00" y2="54.80"/><line x1="21.10" y1="296.80" x2="256.00" y2="61.90"/><line x1="21.10" y1="303.90" x2="256.00" y2="69.00"/><line x1="21.10" y1="311.00" x2="256.00" y2="76.10"/><line x1="21.10" y1="318.10" x2="256.00" y2="83.20"/><line x1="21.10" y1="325.20" x2="256.00" y2="90.30"/><line x1="21.10" y1="332.30" x2="256.00" y2="97.40"/><line x1="21.10" y1="339.40" x2="256.00" y2="104.50"/><line x1="21.10" y1="346.50" x2="256.00" y2="111.60"/><line x1="21.10" y1="353.60" x2="256.00" y2="118.70"/><line x1="21.10" y1="360.70" x2="256.00" y2="125.80"/><line x1="21.10" y1="367.80" x2="256.00" y2="132.90"/><line x1="21.10" y1="374.90" x2="256.00" y2="140.00"/><line x1="21.10" y1="382.00" x2="256.00" y2="147.10"/><line x1="21.10" y1="389.10" x2="256.00" y2="154.20"/><line x1="21.10" y1="396.20" x2="256.00" y2="161.30"/><line x1="21.10" y1="403.30" x2="256.00" y2="168.40"/><line x1="21.10" y1="410.40" x2="256.00" y2="175.50"/><line x1="21.10" y1="417.50" x2="256.00" y2="182.60"/><line x1="21.10" y1="424.60" x2="256.00" y2="189.70"/><line x1="21.10" y1="431.70" x2="256.00" y2="196.80"/><line x1="21.10" y1="438.80" x2="256.00" y2="203.90"/><line x1="21.10" y1="445.90" x2="256.00" y2="211.00"/><line x1="21.10" y1="453.00" x2="256.00" y2="218.10"/><line x1="21.10" y1="460.10" x2="256.00" y2="225.20"/><line x1="21.10" y1="467.20" x2="256.00" y2="232.30"/><line x1="21.10" y1="474.30" x2="256.00" y2="239.40"/><line x1="21.10" y1="481.40" x2="256.00" y2="246.50"/><line x1="21.10" y1="488.50" x2="256.00" y2="253.60"/><line x1="21.10" y1="495.60" x2="256.00" y2="260.70"/><line x1="21.10" y1="502.70" x2="256.00" y2="267.80"/><line x1="21.10" y1="509.80" x2="256.00" y2="274.90"/><line x1="21.10" y1="516.90" x2="256.00" y2="282.00"/><line x1="21.10" y1="524.00" x2="256.00" y2="289.10"/><line x1="21.10" y1="531.10" x2="256.00" y2="296.20"/><line x1="21.10" y1="538.20" x2="256.00" y2="303.30"/><line x1="21.10" y1="545.30" x2="256.00" y2="310.40"/><line x1="21.10" y1="552.40" x2="256.00" y2="317.50"/><line x1="21.10" y1="559.50" x2="256.00" y2="324.60"/><line x1="21.10" y1="566.60" x2="256.00" y2="331.70"/><line x1="21.10" y1="573.70" x2="256.00" y2="338.80"/><line x1="21.10" y1="580.80" x2="256.00" y2="345.90"/><line x1="21.10" y1="587.90" x2="256.00" y2="353.00"/><line x1="21.10" y1="595.00" x2="256.00" y2="360.10"/><line x1="21.10" y1="602.10" x2="256.00" y2="367.20"/><line x1="21.10" y1="609.20" x2="256.00" y2="374.30"/><line x1="21.10" y1="616.30" x2="256.00" y2="381.40"/><line x1="21.10" y1="623.40" x2="256.00" y2="388.50"/><line x1="21.10" y1="630.50" x2="256.00" y2="395.60"/></g>
<polyline points="27.0,398.6 27.9,398.5 28.8,398.7 29.6,398.5 30.5,398.4 31.4,398.2 32.3,398.5 33.2,398.5 34.0,398.3 34.9,398.4 35.8,398.7 36.7,398.7 37.6,398.7 38.4,398.4 39.3,398.5 40.2,398.5 41.1,398.5 42.0,397.8 42.8,398.6 43.7,398.6 44.6,398.1 45.5,398.2 46.4,398.5 47.2,398.5 48.1,398.0 49.0,398.3 49.9,398.3 50.8,398.3 51.6,398.7 52.5,398.5 53.4,397.6 54.3,398.6 55.2,398.3 56.0,398.6 56.9,397.9 57.8,398.4 58.7,398.2 59.6,398.5 60.0,398.4 60.4,398.3 61.3,398.4 62.2,398.3 63.1,398.3 64.0,398.2 64.8,398.2 65.7,398.2 66.6,398.4 67.5,398.1 68.4,398.0 69.2,398.2 70.1,398.2 71.0,398.1 71.9,398.3 72.8,398.1 73.6,398.3 74.5,398.3 75.4,398.4 76.3,398.1 77.2,398.5 78.0,398.2 78.9,398.5 79.8,398.3 80.7,398.2 81.6,398.1 82.4,398.0 83.3,398.1 84.2,397.6 85.1,398.1 86.0,398.3 86.8,398.1 87.7,398.1 88.6,398.0 89.5,398.1 90.4,397.8 91.2,398.2 92.1,398.5 93.0,398.0 93.9,398.0 94.8,398.1 95.6,398.0 96.5,398.1 97.4,398.0 98.3,398.1 99.2,397.6 100.0,398.2 100.0,398.3 100.9,398.2 101.8,398.1 102.7,398.2 103.6,398.0 104.4,398.1 105.3,398.1 106.2,398.4 107.1,397.5 108.0,397.4 108.8,398.3 109.7,398.2 110.6,398.1 111.5,398.2 112.4,397.6 112.4,398.0 113.2,398.2 114.1,397.4 115.0,396.9 115.9,396.9 116.8,397.3 117.6,397.0 118.5,396.4 119.1,396.3 119.4,396.3 120.3,394.8 121.2,394.8 122.0,392.9 122.9,390.5 123.6,391.8 123.8,390.8 124.7,388.6 125.6,390.6 126.4,390.6 127.3,388.3 128.2,390.2 129.1,387.5 129.2,389.5 130.0,387.7 130.8,384.1 131.7,387.2 132.5,385.1 132.6,385.0 133.5,383.4 134.4,381.9 134.8,382.8 135.2,383.0 136.1,376.5 137.0,379.6 137.9,375.9 138.1,378.4 138.8,379.3 139.6,378.3 140.0,377.0 140.5,376.2 141.4,373.2 142.3,369.0 142.7,369.1 143.2,366.6 144.0,370.4 144.9,371.6 145.4,370.9 145.8,369.9 146.7,369.2 147.6,367.7 148.1,367.3 148.4,366.4 149.3,364.1 150.2,364.7 150.7,361.9 151.1,359.4 152.0,362.8 152.5,363.7 152.8,363.2 153.7,357.4 154.3,354.7 154.6,354.4 155.5,347.4 156.4,349.8 157.0,349.4 157.2,339.8 157.9,333.3 158.1,321.7 159.0,319.5 159.7,320.7 159.9,311.7 160.3,300.0 160.8,292.0 161.6,288.7 162.5,288.1 163.0,284.9 163.4,284.0 164.3,279.6 165.0,274.2 165.2,272.3 166.0,272.0 166.9,268.6 167.7,266.1 167.8,263.1 168.7,262.0 169.0,261.4 169.6,264.9 170.3,274.2 170.4,275.3 171.3,281.2 171.7,279.5 172.2,277.0 173.1,278.8 173.7,282.2 174.0,287.0 174.8,284.4 175.0,288.9 175.7,291.5 176.2,298.0 176.6,296.9 177.5,303.7 178.2,306.1 178.4,311.5 178.9,323.6 179.2,323.3 180.1,323.1 180.9,327.6 181.0,325.1 181.9,334.0 182.8,333.3 182.9,337.0 183.6,342.5 184.2,346.4 184.5,345.4 185.4,346.8 185.4,349.2 186.3,352.8 187.2,352.1 187.7,355.4 188.0,356.6 188.9,360.6 189.8,361.4 190.0,361.5 190.7,361.3 191.6,362.5 192.4,358.3 193.1,360.8 193.3,361.1 194.2,364.7 195.1,369.0 195.4,370.8 196.0,373.0 196.8,376.6 197.7,378.5 197.7,378.7 198.6,380.9 199.5,383.1 200.4,381.9 200.8,384.6 201.2,385.0 202.1,385.1 203.0,387.8 203.9,386.1 204.6,389.2 204.8,389.2 205.6,389.3 206.5,391.7 207.4,392.1 208.3,392.1 209.2,393.7 209.2,393.8 210.0,394.2 210.9,392.6 211.8,394.0 212.7,395.0 213.6,395.7 214.4,393.7 215.3,395.9 216.2,395.5 216.9,396.2 217.1,396.8 218.0,395.2 218.8,396.8 219.7,397.5 220.6,397.6 221.5,397.8 221.5,398.3 222.4,398.2 223.2,398.6 224.1,398.3 225.0,398.2 225.9,398.2 226.8,398.2 227.6,398.2 228.5,397.6 229.4,398.5 230.3,398.5 231.2,398.3 232.0,398.2 232.9,398.3 233.8,398.6 234.7,397.9 235.6,398.0 236.4,398.4 237.3,398.5 238.2,398.4 239.1,398.4 240.0,398.7 240.8,398.7 241.7,398.5 242.6,398.6 243.5,398.1 244.4,398.7 245.2,398.5 246.1,398.7 247.0,398.5 247.9,398.2 248.8,398.6 249.6,398.7 250.0,398.7" fill="none" stroke="#1a1a1a" stroke-width="1.2" stroke-linejoin="round"/>
<polyline points="27.0,398.6 27.9,398.7 28.8,398.4 29.6,398.5 30.5,398.4 31.4,398.5 32.3,398.4 33.2,398.6 34.0,398.5 34.9,398.1 35.8,398.6 36.7,398.6 37.6,398.5 38.4,398.4 39.3,398.5 40.2,398.3 41.1,398.6 42.0,398.4 42.8,398.3 43.7,398.4 44.6,398.3 45.5,398.0 46.4,398.5 47.2,398.3 48.1,398.3 49.0,398.5 49.9,398.3 50.8,398.5 51.6,398.5 52.5,398.4 53.4,398.4 54.3,398.2 55.2,398.1 56.0,398.1 56.9,398.4 57.8,398.5 58.7,398.3 59.6,398.4 60.0,398.3 60.4,398.5 61.3,397.8 62.2,398.1 63.1,398.5 64.0,398.1 64.8,398.1 65.7,398.4 66.6,398.2 67.5,398.2 68.4,398.4 69.2,398.4 70.1,398.2 71.0,398.4 71.9,398.0 72.8,398.1 73.6,398.2 74.5,398.3 75.4,398.2 76.3,398.2 77.2,398.0 78.0,397.9 78.9,398.1 79.8,398.1 80.7,398.1 81.6,397.8 82.4,398.2 83.3,398.3 84.2,398.2 85.1,398.0 86.0,397.8 86.8,398.0 87.7,398.0 88.6,398.0 89.5,397.6 90.0,398.0 90.4,398.2 91.2,398.1 92.1,398.0 93.0,397.8 93.9,397.8 94.8,397.8 95.6,397.8 96.5,397.8 97.4,397.7 98.3,397.6 99.0,397.8 99.2,397.6 100.0,397.6 100.9,397.4 101.8,397.4 102.7,397.5 103.6,397.3 104.4,397.3 105.3,396.3 106.2,396.4 107.1,396.1 107.9,396.3 108.0,395.9 108.8,395.6 109.7,393.5 110.6,394.7 111.3,394.0 111.5,393.9 112.4,387.5 112.4,389.5 113.2,387.1 114.1,386.0 114.6,385.1 115.0,384.1 115.9,382.2 116.8,379.1 116.9,378.4 117.6,372.0 118.5,372.5 119.4,370.0 119.6,370.0 120.3,368.5 121.2,366.1 121.4,365.8 121.4,341.6 122.0,340.3 122.8,337.2 122.9,338.9 123.8,336.7 124.7,335.2 125.6,330.2 125.9,330.0 126.4,320.8 127.3,311.7 127.5,308.0 128.1,303.7 128.2,302.8 128.7,297.0 129.1,284.6 129.4,282.2 130.0,278.8 130.7,275.5 130.8,276.0 131.7,273.2 132.6,275.5 132.8,274.2 133.4,267.4 133.5,264.2 134.1,259.4 134.4,260.5 135.2,261.9 136.1,263.4 136.1,262.8 136.8,259.4 137.0,281.9 137.1,289.0 137.6,289.0 137.9,286.6 138.8,271.8 138.8,274.2 139.6,270.6 140.5,264.9 140.8,267.4 141.4,265.4 141.7,259.4 142.3,265.1 142.8,267.4 143.2,269.0 144.0,273.3 144.2,279.5 144.9,278.6 145.8,274.3 146.2,276.8 146.7,279.0 147.5,288.9 147.6,287.4 148.4,285.1 148.9,280.9 149.3,284.1 150.2,289.3 150.2,290.3 151.1,279.3 152.0,271.3 152.2,268.8 152.8,279.9 153.6,288.9 153.7,286.4 154.6,290.0 155.5,288.0 155.6,290.3 156.4,290.1 157.2,281.2 157.6,282.2 158.1,288.3 159.0,290.1 159.6,294.3 159.9,297.7 160.7,300.7 160.8,303.8 161.6,306.8 162.5,312.8 162.8,314.2 163.4,316.2 164.3,315.6 165.2,314.8 166.0,319.1 166.9,320.3 167.4,323.6 167.8,323.1 168.7,325.5 169.6,332.4 170.1,333.0 170.4,334.6 171.3,338.0 172.2,341.9 172.2,340.5 173.1,343.5 174.0,347.5 174.6,347.7 174.8,347.4 175.7,352.2 176.6,355.7 176.9,355.4 177.5,358.5 178.4,359.0 179.2,363.1 179.2,363.5 180.1,365.9 181.0,367.9 181.5,369.2 181.9,369.8 182.8,371.1 183.6,372.8 184.5,372.3 184.6,373.1 185.4,374.9 186.3,376.1 187.2,374.6 187.7,376.2 188.0,376.0 188.9,377.1 189.8,377.0 190.7,378.1 190.8,378.5 191.6,379.2 192.4,380.3 193.3,379.8 193.8,381.5 194.2,382.9 195.1,382.7 196.0,382.8 196.8,383.7 196.9,383.1 197.7,382.7 198.6,383.8 199.5,384.9 200.0,385.4 200.4,383.6 201.2,385.7 202.1,385.7 203.0,385.9 203.1,386.2 203.9,384.7 204.8,383.2 205.6,384.3 206.2,383.1 206.5,382.5 207.4,385.0 208.3,386.3 209.2,386.4 209.2,386.2 210.0,383.7 210.9,382.8 211.5,381.5 211.8,383.2 212.7,384.2 213.6,386.7 213.8,386.2 214.4,386.9 215.3,386.3 216.2,384.7 216.9,386.9 217.1,385.2 218.0,387.9 218.8,389.9 219.7,391.1 220.0,390.8 220.6,390.7 221.5,391.8 222.4,393.0 223.1,393.8 223.2,392.4 224.1,394.6 225.0,395.3 225.9,395.5 226.8,396.2 227.6,396.4 227.7,396.2 228.5,396.6 229.4,396.7 230.3,396.6 231.2,396.9 232.0,396.6 232.9,397.2 233.8,397.9 233.8,397.7 234.7,397.5 235.6,397.8 236.4,398.1 237.3,398.2 238.2,398.4 239.1,398.5 240.0,398.3 240.0,398.4 240.8,398.5 241.7,398.5 242.6,398.6 243.5,398.3 244.4,398.6 245.2,398.7 246.1,398.5 247.0,398.7 247.9,398.5 248.8,398.7 249.6,398.8 250.0,398.7" fill="none" stroke="#000" stroke-width="1.70" stroke-linejoin="round"/>
<g clip-path="url(#c4)" stroke="#111" stroke-width="1.15"><line x1="282.90" y1="226.70" x2="517.20" y2="-7.60"/><line x1="282.90" y1="233.80" x2="517.20" y2="-0.50"/><line x1="282.90" y1="240.90" x2="517.20" y2="6.60"/><line x1="282.90" y1="248.00" x2="517.20" y2="13.70"/><line x1="282.90" y1="255.10" x2="517.20" y2="20.80"/><line x1="282.90" y1="262.20" x2="517.20" y2="27.90"/><line x1="282.90" y1="269.30" x2="517.20" y2="35.00"/><line x1="282.90" y1="276.40" x2="517.20" y2="42.10"/><line x1="282.90" y1="283.50" x2="517.20" y2="49.20"/><line x1="282.90" y1="290.60" x2="517.20" y2="56.30"/><line x1="282.90" y1="297.70" x2="517.20" y2="63.40"/><line x1="282.90" y1="304.80" x2="517.20" y2="70.50"/><line x1="282.90" y1="311.90" x2="517.20" y2="77.60"/><line x1="282.90" y1="319.00" x2="517.20" y2="84.70"/><line x1="282.90" y1="326.10" x2="517.20" y2="91.80"/><line x1="282.90" y1="333.20" x2="517.20" y2="98.90"/><line x1="282.90" y1="340.30" x2="517.20" y2="106.00"/><line x1="282.90" y1="347.40" x2="517.20" y2="113.10"/><line x1="282.90" y1="354.50" x2="517.20" y2="120.20"/><line x1="282.90" y1="361.60" x2="517.20" y2="127.30"/><line x1="282.90" y1="368.70" x2="517.20" y2="134.40"/><line x1="282.90" y1="375.80" x2="517.20" y2="141.50"/><line x1="282.90" y1="382.90" x2="517.20" y2="148.60"/><line x1="282.90" y1="390.00" x2="517.20" y2="155.70"/><line x1="282.90" y1="397.10" x2="517.20" y2="162.80"/><line x1="282.90" y1="404.20" x2="517.20" y2="169.90"/><line x1="282.90" y1="411.30" x2="517.20" y2="177.00"/><line x1="282.90" y1="418.40" x2="517.20" y2="184.10"/><line x1="282.90" y1="425.50" x2="517.20" y2="191.20"/><line x1="282.90" y1="432.60" x2="517.20" y2="198.30"/><line x1="282.90" y1="439.70" x2="517.20" y2="205.40"/><line x1="282.90" y1="446.80" x2="517.20" y2="212.50"/><line x1="282.90" y1="453.90" x2="517.20" y2="219.60"/><line x1="282.90" y1="461.00" x2="517.20" y2="226.70"/><line x1="282.90" y1="468.10" x2="517.20" y2="233.80"/><line x1="282.90" y1="475.20" x2="517.20" y2="240.90"/><line x1="282.90" y1="482.30" x2="517.20" y2="248.00"/><line x1="282.90" y1="489.40" x2="517.20" y2="255.10"/><line x1="282.90" y1="496.50" x2="517.20" y2="262.20"/><line x1="282.90" y1="503.60" x2="517.20" y2="269.30"/><line x1="282.90" y1="510.70" x2="517.20" y2="276.40"/><line x1="282.90" y1="517.80" x2="517.20" y2="283.50"/><line x1="282.90" y1="524.90" x2="517.20" y2="290.60"/><line x1="282.90" y1="532.00" x2="517.20" y2="297.70"/><line x1="282.90" y1="539.10" x2="517.20" y2="304.80"/><line x1="282.90" y1="546.20" x2="517.20" y2="311.90"/><line x1="282.90" y1="553.30" x2="517.20" y2="319.00"/><line x1="282.90" y1="560.40" x2="517.20" y2="326.10"/><line x1="282.90" y1="567.50" x2="517.20" y2="333.20"/><line x1="282.90" y1="574.60" x2="517.20" y2="340.30"/><line x1="282.90" y1="581.70" x2="517.20" y2="347.40"/><line x1="282.90" y1="588.80" x2="517.20" y2="354.50"/><line x1="282.90" y1="595.90" x2="517.20" y2="361.60"/><line x1="282.90" y1="603.00" x2="517.20" y2="368.70"/><line x1="282.90" y1="610.10" x2="517.20" y2="375.80"/><line x1="282.90" y1="617.20" x2="517.20" y2="382.90"/><line x1="282.90" y1="624.30" x2="517.20" y2="390.00"/><line x1="282.90" y1="631.40" x2="517.20" y2="397.10"/></g>
<polyline points="289.0,396.3 289.9,395.8 290.8,396.4 291.6,395.9 292.5,396.4 293.4,395.8 294.3,395.9 295.0,396.0 295.2,395.5 296.0,396.2 296.9,395.1 297.8,393.9 298.7,393.5 299.6,394.1 300.4,391.8 300.9,394.3 301.3,394.1 302.2,394.0 303.1,394.6 304.0,393.3 304.8,393.0 305.7,394.2 306.6,393.0 307.2,393.4 307.5,392.8 308.4,390.4 309.2,391.6 310.1,391.0 311.0,390.7 311.9,390.2 312.5,390.7 312.8,391.1 313.6,390.8 314.5,390.9 315.4,390.4 316.3,390.8 317.2,391.1 317.9,391.6 318.0,391.9 318.9,390.3 319.8,391.8 320.7,390.4 321.6,391.3 322.4,387.3 323.3,389.8 323.3,389.7 324.2,387.5 325.1,390.2 326.0,388.4 326.8,388.3 327.7,385.7 328.6,387.4 328.6,388.0 329.5,387.2 330.4,387.7 331.2,386.6 332.1,386.5 333.0,386.8 333.9,386.9 334.0,386.2 334.8,386.9 335.6,385.5 336.5,385.7 337.4,384.9 337.6,385.3 338.3,384.9 339.2,384.9 340.0,382.4 340.9,379.2 341.2,381.7 341.8,379.6 342.7,379.0 343.6,377.3 343.8,377.3 344.4,374.3 345.3,369.4 346.2,368.0 346.5,368.3 346.9,356.7 347.1,355.7 348.0,359.2 348.8,364.1 349.2,364.7 349.7,365.8 350.6,359.3 351.5,360.7 351.9,361.2 352.4,363.9 353.2,362.0 353.7,364.7 354.1,365.3 355.0,359.1 355.9,357.9 356.8,357.3 357.3,354.0 357.6,349.2 358.5,347.0 359.4,346.6 360.3,350.9 360.9,348.6 361.2,347.7 362.0,346.3 362.6,341.5 362.9,342.2 363.8,338.0 364.7,338.7 365.3,339.7 365.6,337.9 365.9,330.0 366.4,329.5 367.3,322.8 367.4,322.7 368.2,316.0 369.0,311.7 369.1,314.4 370.0,310.1 370.5,307.0 370.8,303.8 371.3,299.2 371.7,298.5 372.6,295.3 373.5,298.3 373.7,297.6 374.4,294.4 375.2,294.9 375.3,291.3 376.1,285.7 376.8,288.2 377.0,284.1 377.6,272.5 377.9,270.0 378.8,276.7 379.0,280.0 379.6,281.7 380.5,274.2 381.4,273.2 381.5,275.7 382.3,268.0 382.3,266.3 383.2,275.4 383.5,276.0 384.0,273.4 384.9,275.8 385.8,271.7 386.0,274.0 386.7,276.2 387.6,276.4 388.0,276.0 388.4,277.3 389.3,274.0 390.0,273.0 390.2,270.5 391.1,273.8 391.7,278.8 392.0,279.1 392.8,280.2 393.3,291.3 393.7,294.3 394.6,297.6 395.5,294.0 395.6,300.7 396.4,300.9 397.2,298.2 398.0,311.7 398.1,314.4 399.0,311.8 399.9,313.8 400.8,312.9 401.0,314.0 401.6,313.9 402.5,315.1 403.4,309.5 404.0,312.0 404.3,309.1 405.2,302.5 406.0,305.0 406.0,303.1 406.9,295.6 407.8,300.6 408.7,295.6 409.1,298.1 409.6,313.0 409.8,317.6 410.4,308.4 411.3,312.2 412.2,303.0 412.4,305.5 413.1,309.0 413.8,310.9 414.0,307.7 414.8,305.2 415.7,303.6 416.6,300.2 417.1,301.5 417.5,309.3 417.8,316.2 418.4,313.8 419.2,320.2 419.8,317.6 420.1,323.1 420.5,324.3 421.0,325.5 421.8,331.0 421.9,334.1 422.8,331.1 423.5,339.4 423.6,336.9 424.3,345.7 424.5,343.2 425.4,352.3 426.3,357.0 426.6,356.6 427.2,358.5 428.0,364.7 428.2,366.0 428.9,370.1 429.8,373.9 429.8,372.3 430.7,370.4 431.6,376.0 432.1,377.0 432.4,376.6 433.3,374.5 434.2,377.1 434.5,378.5 435.1,377.6 436.0,380.0 436.8,380.6 437.6,383.2 437.7,383.8 438.6,385.8 439.5,385.3 440.4,386.7 440.7,387.9 441.2,386.1 442.1,389.4 443.0,391.6 443.9,388.5 444.6,392.6 444.8,392.6 445.6,393.4 446.5,394.4 447.4,394.2 448.3,392.8 449.2,394.6 450.0,395.5 450.1,395.8 450.9,395.7 451.8,396.2 452.7,395.7 453.6,396.2 454.4,396.6 455.3,397.2 456.2,396.9 457.1,396.9 457.9,397.3 458.0,397.1 458.8,397.4 459.7,397.7 460.6,397.9 461.5,398.0 462.4,397.7 463.2,398.1 464.1,398.0 465.0,397.0 465.9,397.9 466.8,398.2 467.6,398.4 468.5,398.1 469.4,398.1 470.0,398.4 470.3,398.6 471.2,398.5 472.0,397.9 472.9,398.2 473.8,397.7 474.7,397.5 475.6,398.2 476.4,398.4 477.3,398.4 478.2,398.6 479.1,398.1 480.0,398.3 480.8,397.8 481.7,398.0 482.6,398.3 483.5,398.3 484.4,398.7 485.2,398.4 486.1,398.7 487.0,398.7 487.9,398.7 488.8,398.7 489.6,398.7 490.5,398.5 491.4,398.4 492.3,397.9 493.2,398.6 494.0,398.7 494.9,398.6 495.8,398.4 496.7,398.8 497.6,398.6 498.4,397.9 499.3,398.8 500.2,398.7 501.1,398.3 502.0,398.5 502.8,398.7 503.7,398.8 504.6,398.8 505.5,398.7 506.4,398.7 507.2,398.8 508.1,398.8 509.0,398.8 509.9,398.3 510.8,398.7 511.0,398.7" fill="none" stroke="#1a1a1a" stroke-width="1.2" stroke-linejoin="round"/>
<polyline points="289.0,398.7 289.9,398.8 290.8,398.6 291.6,398.6 292.5,398.6 293.4,398.6 294.3,398.7 295.2,398.7 296.0,398.8 296.9,398.7 297.8,398.7 298.7,398.6 299.6,398.5 300.4,398.7 301.3,398.6 302.2,398.6 303.1,398.8 304.0,398.6 304.8,398.2 305.7,398.7 306.6,398.8 307.5,398.5 308.4,398.5 309.2,398.5 310.1,398.6 311.0,398.8 311.9,398.6 312.8,398.7 313.6,398.5 314.5,398.5 315.4,398.6 316.3,398.7 317.2,398.6 318.0,398.5 318.9,398.6 319.8,398.7 320.7,398.2 321.6,398.5 322.4,398.2 323.3,398.6 324.2,398.5 325.1,398.5 326.0,398.4 326.8,398.4 327.7,398.7 328.6,398.3 329.5,398.5 330.0,398.5 330.4,398.5 331.2,398.6 332.1,398.4 333.0,398.4 333.9,398.1 334.8,398.3 335.6,398.6 336.5,398.6 337.4,398.4 338.3,398.2 339.2,398.2 340.0,398.4 340.9,398.2 341.8,398.5 342.7,398.2 343.6,397.9 344.4,398.4 345.3,398.2 346.2,398.3 347.1,398.3 348.0,398.5 348.8,398.2 349.7,398.1 350.0,398.3 350.6,398.5 351.5,398.4 352.4,398.2 353.2,397.9 353.7,398.0 354.1,397.7 355.0,396.7 355.9,395.7 356.8,395.9 357.6,394.6 358.5,394.2 359.1,393.4 359.4,391.5 360.3,391.5 361.2,388.6 361.7,388.0 362.0,387.2 362.9,386.9 363.8,384.8 364.4,384.4 364.7,384.9 365.6,383.2 366.4,380.7 367.1,379.1 367.3,379.4 368.2,373.9 368.9,371.9 369.1,372.6 370.0,364.7 370.7,364.7 370.8,365.5 371.7,359.6 372.5,356.0 372.6,354.7 373.4,353.7 373.5,353.3 374.4,349.7 374.8,345.6 375.2,344.2 376.1,337.6 376.1,337.8 377.0,328.6 377.4,326.8 377.9,323.2 378.8,311.8 378.8,313.4 379.6,306.7 380.1,300.0 380.5,294.0 380.7,291.3 381.4,285.8 381.5,283.5 382.3,279.8 383.1,275.7 383.2,277.7 384.0,271.5 384.2,268.0 384.9,262.0 384.9,259.3 384.9,253.4 385.8,250.1 386.2,252.6 386.5,242.1 386.7,238.5 387.4,241.0 387.4,231.2 387.6,231.1 388.3,231.2 388.4,241.0 388.4,240.9 389.3,243.5 390.2,238.5 390.9,243.0 391.1,242.8 391.5,251.8 392.0,249.5 392.8,253.7 393.6,251.8 393.7,258.3 393.7,256.2 394.6,260.5 394.9,262.0 395.5,264.9 395.5,266.8 396.0,273.6 396.4,271.1 397.2,282.5 397.2,281.5 398.1,289.0 398.4,289.0 399.0,290.4 399.8,296.0 399.9,296.6 400.8,297.2 401.0,301.2 401.6,306.7 402.5,311.9 402.6,312.4 403.4,319.0 403.8,321.4 404.3,325.6 404.9,327.0 405.2,329.7 406.0,328.1 406.9,333.6 407.0,332.0 407.8,333.9 408.7,333.2 409.4,336.0 409.6,335.9 410.4,340.2 411.3,341.6 411.5,340.0 412.2,344.6 413.1,344.5 413.4,347.0 414.0,349.9 414.8,350.4 415.5,352.0 415.7,352.9 416.6,354.3 417.5,356.8 417.9,356.8 418.4,358.3 419.2,354.3 420.1,358.8 420.5,360.5 421.0,360.4 421.9,358.0 422.8,364.3 423.3,364.0 423.6,363.7 424.5,365.9 425.4,371.2 425.8,370.7 426.3,372.7 427.2,373.4 428.0,373.7 428.9,378.1 429.0,377.0 429.8,377.7 430.7,380.0 431.6,380.7 432.4,381.0 432.9,381.7 433.3,381.3 434.2,382.5 435.1,382.4 436.0,384.0 436.0,384.8 436.8,386.6 437.7,387.3 438.6,386.5 439.1,387.9 439.5,388.5 440.4,389.7 441.2,390.3 442.1,390.5 443.0,390.8 443.1,391.1 443.9,392.1 444.8,392.6 445.6,392.9 446.5,394.5 447.0,394.2 447.4,394.4 448.3,395.0 449.2,395.3 450.0,395.5 450.9,395.1 451.8,394.9 452.7,396.2 453.2,395.8 453.6,396.4 454.4,396.1 455.3,396.4 456.2,395.8 457.1,396.8 458.0,396.2 458.8,397.4 459.5,397.3 459.7,397.1 460.6,397.6 461.5,397.6 462.4,397.6 463.2,397.8 464.1,398.0 465.0,398.2 465.8,398.1 465.9,397.6 466.8,398.0 467.6,398.3 468.5,398.0 469.4,398.4 470.3,398.1 471.2,398.0 472.0,398.0 472.9,398.2 473.8,398.4 474.7,398.0 475.6,398.1 476.4,398.2 477.3,398.4 478.2,398.1 479.1,398.2 480.0,398.1 480.8,398.1 481.7,398.1 482.6,398.5 483.5,398.4 484.4,398.6 485.2,398.4 486.1,398.3 487.0,398.2 487.9,398.3 488.8,398.4 489.6,398.5 490.5,398.2 491.4,398.4 492.3,398.6 493.2,398.0 494.0,398.3 494.9,398.6 495.8,398.4 496.7,398.6 497.6,398.4 498.4,398.4 499.3,398.4 500.2,398.6 501.1,398.5 502.0,398.4 502.8,398.4 503.7,398.1 504.6,398.6 505.5,398.7 506.4,398.7 507.2,398.5 508.1,398.5 509.0,398.7 509.9,398.8 510.8,398.6 511.0,398.7" fill="none" stroke="#000" stroke-width="1.90" stroke-linejoin="round"/>
<rect x="393.3" y="19" width="4.9" height="11" fill="#000"/>
<path d="M394.6,30V46M397.6,30V46" stroke="#000" stroke-width="1.2"/>
<path d="M28.3,177V165" stroke="#555" stroke-width="1.2"/>
<path d="M27.3,398.5V391" stroke="#555" stroke-width="1.2"/>
<path d="M288.9,398.5V374.2" stroke="#666" stroke-width="1.1"/>
<rect x="27.00" y="1.70" width="225.00" height="175.90" fill="none" stroke="#000" stroke-width="1.45"/>
<path d="M22.90,1.70h4.10M24.90,8.74h2.10M24.90,15.77h2.10M24.90,22.81h2.10M24.90,29.84h2.10M22.90,36.88h4.10M24.90,43.92h2.10M24.90,50.95h2.10M24.90,57.99h2.10M24.90,65.02h2.10M22.90,72.06h4.10M24.90,79.10h2.10M24.90,86.13h2.10M24.90,93.17h2.10M24.90,100.20h2.10M22.90,107.24h4.10M24.90,114.28h2.10M24.90,121.31h2.10M24.90,128.35h2.10M24.90,135.38h2.10M22.90,142.42h4.10M24.90,149.46h2.10M24.90,156.49h2.10M24.90,163.53h2.10M24.90,170.56h2.10M22.90,177.60h4.10M27.00,177.60v4.00M43.93,177.60v2.50M53.84,177.60v2.50M60.87,177.60v2.50M66.32,177.60v2.50M70.77,177.60v2.50M74.54,177.60v2.50M77.80,177.60v2.50M80.68,177.60v2.50M83.25,177.60v4.00M100.18,177.60v2.50M110.09,177.60v2.50M117.12,177.60v2.50M122.57,177.60v2.50M127.02,177.60v2.50M130.79,177.60v2.50M134.05,177.60v2.50M136.93,177.60v2.50M139.50,177.60v4.00M156.43,177.60v2.50M166.34,177.60v2.50M173.37,177.60v2.50M178.82,177.60v2.50M183.27,177.60v2.50M187.04,177.60v2.50M190.30,177.60v2.50M193.18,177.60v2.50M195.75,177.60v4.00M212.68,177.60v2.50M222.59,177.60v2.50M229.62,177.60v2.50M235.07,177.60v2.50M239.52,177.60v2.50M243.29,177.60v2.50M246.55,177.60v2.50M249.43,177.60v2.50M252.00,177.60v4.00" stroke="#000" stroke-width="1.1" fill="none"/>
<text x="27.30" y="191.00" font-family="Liberation Sans" font-size="9" text-anchor="middle" stroke="#000" stroke-width="0.3">10<tspan font-size="7.2" dy="-5.2">0</tspan></text>
<text x="83.55" y="191.00" font-family="Liberation Sans" font-size="9" text-anchor="middle" stroke="#000" stroke-width="0.3">10<tspan font-size="7.2" dy="-5.2">1</tspan></text>
<text x="139.80" y="191.00" font-family="Liberation Sans" font-size="9" text-anchor="middle" stroke="#000" stroke-width="0.3">10<tspan font-size="7.2" dy="-5.2">2</tspan></text>
<text x="196.05" y="191.00" font-family="Liberation Sans" font-size="9" text-anchor="middle" stroke="#000" stroke-width="0.3">10<tspan font-size="7.2" dy="-5.2">3</tspan></text>
<text x="252.30" y="191.00" font-family="Liberation Sans" font-size="9" text-anchor="middle" stroke="#000" stroke-width="0.3">10<tspan font-size="7.2" dy="-5.2">4</tspan></text>
<rect x="287.90" y="2.30" width="224.70" height="175.60" fill="none" stroke="#000" stroke-width="1.45"/>
<path d="M283.80,2.30h4.10M285.80,9.32h2.10M285.80,16.35h2.10M285.80,23.37h2.10M285.80,30.40h2.10M283.80,37.42h4.10M285.80,44.44h2.10M285.80,51.47h2.10M285.80,58.49h2.10M285.80,65.52h2.10M283.80,72.54h4.10M285.80,79.56h2.10M285.80,86.59h2.10M285.80,93.61h2.10M285.80,100.64h2.10M283.80,107.66h4.10M285.80,114.68h2.10M285.80,121.71h2.10M285.80,128.73h2.10M285.80,135.76h2.10M283.80,142.78h4.10M285.80,149.80h2.10M285.80,156.83h2.10M285.80,163.85h2.10M285.80,170.88h2.10M283.80,177.90h4.10M287.90,177.90v4.00M304.81,177.90v2.50M314.70,177.90v2.50M321.72,177.90v2.50M327.16,177.90v2.50M331.61,177.90v2.50M335.37,177.90v2.50M338.63,177.90v2.50M341.50,177.90v2.50M344.07,177.90v4.00M360.99,177.90v2.50M370.88,177.90v2.50M377.90,177.90v2.50M383.34,177.90v2.50M387.79,177.90v2.50M391.55,177.90v2.50M394.81,177.90v2.50M397.68,177.90v2.50M400.25,177.90v4.00M417.16,177.90v2.50M427.05,177.90v2.50M434.07,177.90v2.50M439.51,177.90v2.50M443.96,177.90v2.50M447.72,177.90v2.50M450.98,177.90v2.50M453.85,177.90v2.50M456.43,177.90v4.00M473.34,177.90v2.50M483.23,177.90v2.50M490.25,177.90v2.50M495.69,177.90v2.50M500.14,177.90v2.50M503.90,177.90v2.50M507.16,177.90v2.50M510.03,177.90v2.50M512.60,177.90v4.00" stroke="#000" stroke-width="1.1" fill="none"/>
<text x="288.20" y="191.30" font-family="Liberation Sans" font-size="9" text-anchor="middle" stroke="#000" stroke-width="0.3">10<tspan font-size="7.2" dy="-5.2">0</tspan></text>
<text x="344.38" y="191.30" font-family="Liberation Sans" font-size="9" text-anchor="middle" stroke="#000" stroke-width="0.3">10<tspan font-size="7.2" dy="-5.2">1</tspan></text>
<text x="400.55" y="191.30" font-family="Liberation Sans" font-size="9" text-anchor="middle" stroke="#000" stroke-width="0.3">10<tspan font-size="7.2" dy="-5.2">2</tspan></text>
<text x="456.73" y="191.30" font-family="Liberation Sans" font-size="9" text-anchor="middle" stroke="#000" stroke-width="0.3">10<tspan font-size="7.2" dy="-5.2">3</tspan></text>
<text x="512.90" y="191.30" font-family="Liberation Sans" font-size="9" text-anchor="middle" stroke="#000" stroke-width="0.3">10<tspan font-size="7.2" dy="-5.2">4</tspan></text>
<rect x="26.10" y="223.50" width="224.90" height="175.40" fill="none" stroke="#000" stroke-width="1.45"/>
<path d="M22.00,223.50h4.10M24.00,230.52h2.10M24.00,237.53h2.10M24.00,244.55h2.10M24.00,251.56h2.10M22.00,258.58h4.10M24.00,265.60h2.10M24.00,272.61h2.10M24.00,279.63h2.10M24.00,286.64h2.10M22.00,293.66h4.10M24.00,300.68h2.10M24.00,307.69h2.10M24.00,314.71h2.10M24.00,321.72h2.10M22.00,328.74h4.10M24.00,335.76h2.10M24.00,342.77h2.10M24.00,349.79h2.10M24.00,356.80h2.10M22.00,363.82h4.10M24.00,370.84h2.10M24.00,377.85h2.10M24.00,384.87h2.10M24.00,391.88h2.10M22.00,398.90h4.10M26.10,398.90v4.00M43.03,398.90v2.50M52.93,398.90v2.50M59.95,398.90v2.50M65.40,398.90v2.50M69.85,398.90v2.50M73.62,398.90v2.50M76.88,398.90v2.50M79.75,398.90v2.50M82.33,398.90v4.00M99.25,398.90v2.50M109.15,398.90v2.50M116.18,398.90v2.50M121.62,398.90v2.50M126.08,398.90v2.50M129.84,398.90v2.50M133.10,398.90v2.50M135.98,398.90v2.50M138.55,398.90v4.00M155.48,398.90v2.50M165.38,398.90v2.50M172.40,398.90v2.50M177.85,398.90v2.50M182.30,398.90v2.50M186.07,398.90v2.50M189.33,398.90v2.50M192.20,398.90v2.50M194.78,398.90v4.00M211.70,398.90v2.50M221.60,398.90v2.50M228.63,398.90v2.50M234.07,398.90v2.50M238.53,398.90v2.50M242.29,398.90v2.50M245.55,398.90v2.50M248.43,398.90v2.50M251.00,398.90v4.00" stroke="#000" stroke-width="1.1" fill="none"/>
<text x="26.40" y="412.30" font-family="Liberation Sans" font-size="9" text-anchor="middle" stroke="#000" stroke-width="0.3">10<tspan font-size="7.2" dy="-5.2">0</tspan></text>
<text x="82.62" y="412.30" font-family="Liberation Sans" font-size="9" text-anchor="middle" stroke="#000" stroke-width="0.3">10<tspan font-size="7.2" dy="-5.2">1</tspan></text>
<text x="138.85" y="412.30" font-family="Liberation Sans" font-size="9" text-anchor="middle" stroke="#000" stroke-width="0.3">10<tspan font-size="7.2" dy="-5.2">2</tspan></text>
<text x="195.08" y="412.30" font-family="Liberation Sans" font-size="9" text-anchor="middle" stroke="#000" stroke-width="0.3">10<tspan font-size="7.2" dy="-5.2">3</tspan></text>
<text x="251.30" y="412.30" font-family="Liberation Sans" font-size="9" text-anchor="middle" stroke="#000" stroke-width="0.3">10<tspan font-size="7.2" dy="-5.2">4</tspan></text>
<rect x="287.90" y="223.60" width="224.30" height="175.30" fill="none" stroke="#000" stroke-width="1.45"/>
<path d="M283.80,223.60h4.10M285.80,230.61h2.10M285.80,237.62h2.10M285.80,244.64h2.10M285.80,251.65h2.10M283.80,258.66h4.10M285.80,265.67h2.10M285.80,272.68h2.10M285.80,279.70h2.10M285.80,286.71h2.10M283.80,293.72h4.10M285.80,300.73h2.10M285.80,307.74h2.10M285.80,314.76h2.10M285.80,321.77h2.10M283.80,328.78h4.10M285.80,335.79h2.10M285.80,342.80h2.10M285.80,349.82h2.10M285.80,356.83h2.10M283.80,363.84h4.10M285.80,370.85h2.10M285.80,377.86h2.10M285.80,384.88h2.10M285.80,391.89h2.10M283.80,398.90h4.10M287.90,398.90v4.00M304.78,398.90v2.50M314.65,398.90v2.50M321.66,398.90v2.50M327.09,398.90v2.50M331.53,398.90v2.50M335.29,398.90v2.50M338.54,398.90v2.50M341.41,398.90v2.50M343.98,398.90v4.00M360.86,398.90v2.50M370.73,398.90v2.50M377.74,398.90v2.50M383.17,398.90v2.50M387.61,398.90v2.50M391.36,398.90v2.50M394.62,398.90v2.50M397.48,398.90v2.50M400.05,398.90v4.00M416.93,398.90v2.50M426.80,398.90v2.50M433.81,398.90v2.50M439.24,398.90v2.50M443.68,398.90v2.50M447.44,398.90v2.50M450.69,398.90v2.50M453.56,398.90v2.50M456.12,398.90v4.00M473.01,398.90v2.50M482.88,398.90v2.50M489.89,398.90v2.50M495.32,398.90v2.50M499.76,398.90v2.50M503.51,398.90v2.50M506.77,398.90v2.50M509.63,398.90v2.50M512.20,398.90v4.00" stroke="#000" stroke-width="1.1" fill="none"/>
<text x="288.20" y="412.30" font-family="Liberation Sans" font-size="9" text-anchor="middle" stroke="#000" stroke-width="0.3">10<tspan font-size="7.2" dy="-5.2">0</tspan></text>
<text x="344.28" y="412.30" font-family="Liberation Sans" font-size="9" text-anchor="middle" stroke="#000" stroke-width="0.3">10<tspan font-size="7.2" dy="-5.2">1</tspan></text>
<text x="400.35" y="412.30" font-family="Liberation Sans" font-size="9" text-anchor="middle" stroke="#000" stroke-width="0.3">10<tspan font-size="7.2" dy="-5.2">2</tspan></text>
<text x="456.43" y="412.30" font-family="Liberation Sans" font-size="9" text-anchor="middle" stroke="#000" stroke-width="0.3">10<tspan font-size="7.2" dy="-5.2">3</tspan></text>
<text x="512.50" y="412.30" font-family="Liberation Sans" font-size="9" text-anchor="middle" stroke="#000" stroke-width="0.3">10<tspan font-size="7.2" dy="-5.2">4</tspan></text>
<text x="55.76" y="23.20" font-family="Liberation Sans" font-weight="bold" font-size="12.20" textLength="27.02" lengthAdjust="spacingAndGlyphs">HSC</text>
<text x="55.55" y="39.00" font-family="Liberation Sans" font-weight="bold" font-size="12.20" textLength="78.74" lengthAdjust="spacingAndGlyphs">Bone Marrow</text>
<text x="117.78" y="203.20" font-family="Liberation Sans" font-weight="bold" font-size="12.10" textLength="40.30" lengthAdjust="spacingAndGlyphs">Rh-123</text>
<text x="378.56" y="203.20" font-family="Liberation Sans" font-weight="bold" font-size="12.10" textLength="42.76" lengthAdjust="spacingAndGlyphs">BodVer</text>
<text x="123.02" y="428.60" font-family="Liberation Sans" font-weight="bold" font-size="12.10" textLength="24.63" lengthAdjust="spacingAndGlyphs">JC-1</text>
<text x="387.42" y="425.60" font-family="Liberation Sans" font-weight="bold" font-size="12.10" textLength="27.53" lengthAdjust="spacingAndGlyphs">NAO</text>
<text x="160.88" y="442.70" font-family="Liberation Sans" font-weight="bold" font-size="15.90" textLength="214.65" lengthAdjust="spacingAndGlyphs">Mean Fluorescence Intensity</text>
<text transform="translate(13.20,240.51) rotate(-90)" font-family="Liberation Sans" font-weight="bold" font-size="16.00" textLength="92.67" lengthAdjust="spacingAndGlyphs">Cell Number</text>
<rect x="40" y="12.5" width="11.1" height="10.8" fill="none" stroke="#000" stroke-width="2"/>
<rect x="39.7" y="27.5" width="12.1" height="11.6" fill="none" stroke="#000" stroke-width="1.3"/>
<line x1="40.4" y1="38.2" x2="51.2" y2="28.1" stroke="#111" stroke-width="1.1"/>
<path d="M39.9,30.3L42.4,27.8M49.2,38.9L51.7,36.4" stroke="#222" stroke-width="1"/>
<line x1="7.4" y1="84" x2="7.4" y2="141.7" stroke="#000" stroke-width="2"/>
<line x1="7.4" y1="245.5" x2="7.4" y2="316.3" stroke="#000" stroke-width="2"/>
<path d="M7.4,71.6 L2.7,84.6 L12.1,84.6 Z" fill="#000"/>
<line x1="83.7" y1="437.1" x2="156" y2="437.1" stroke="#000" stroke-width="2.1"/>
<line x1="378.8" y1="437.1" x2="438" y2="437.1" stroke="#000" stroke-width="2.1"/>
<path d="M449.8,437.2 L437.2,432.8 L437.2,441.5 Z" fill="#000"/>
</svg>
</body></html>
